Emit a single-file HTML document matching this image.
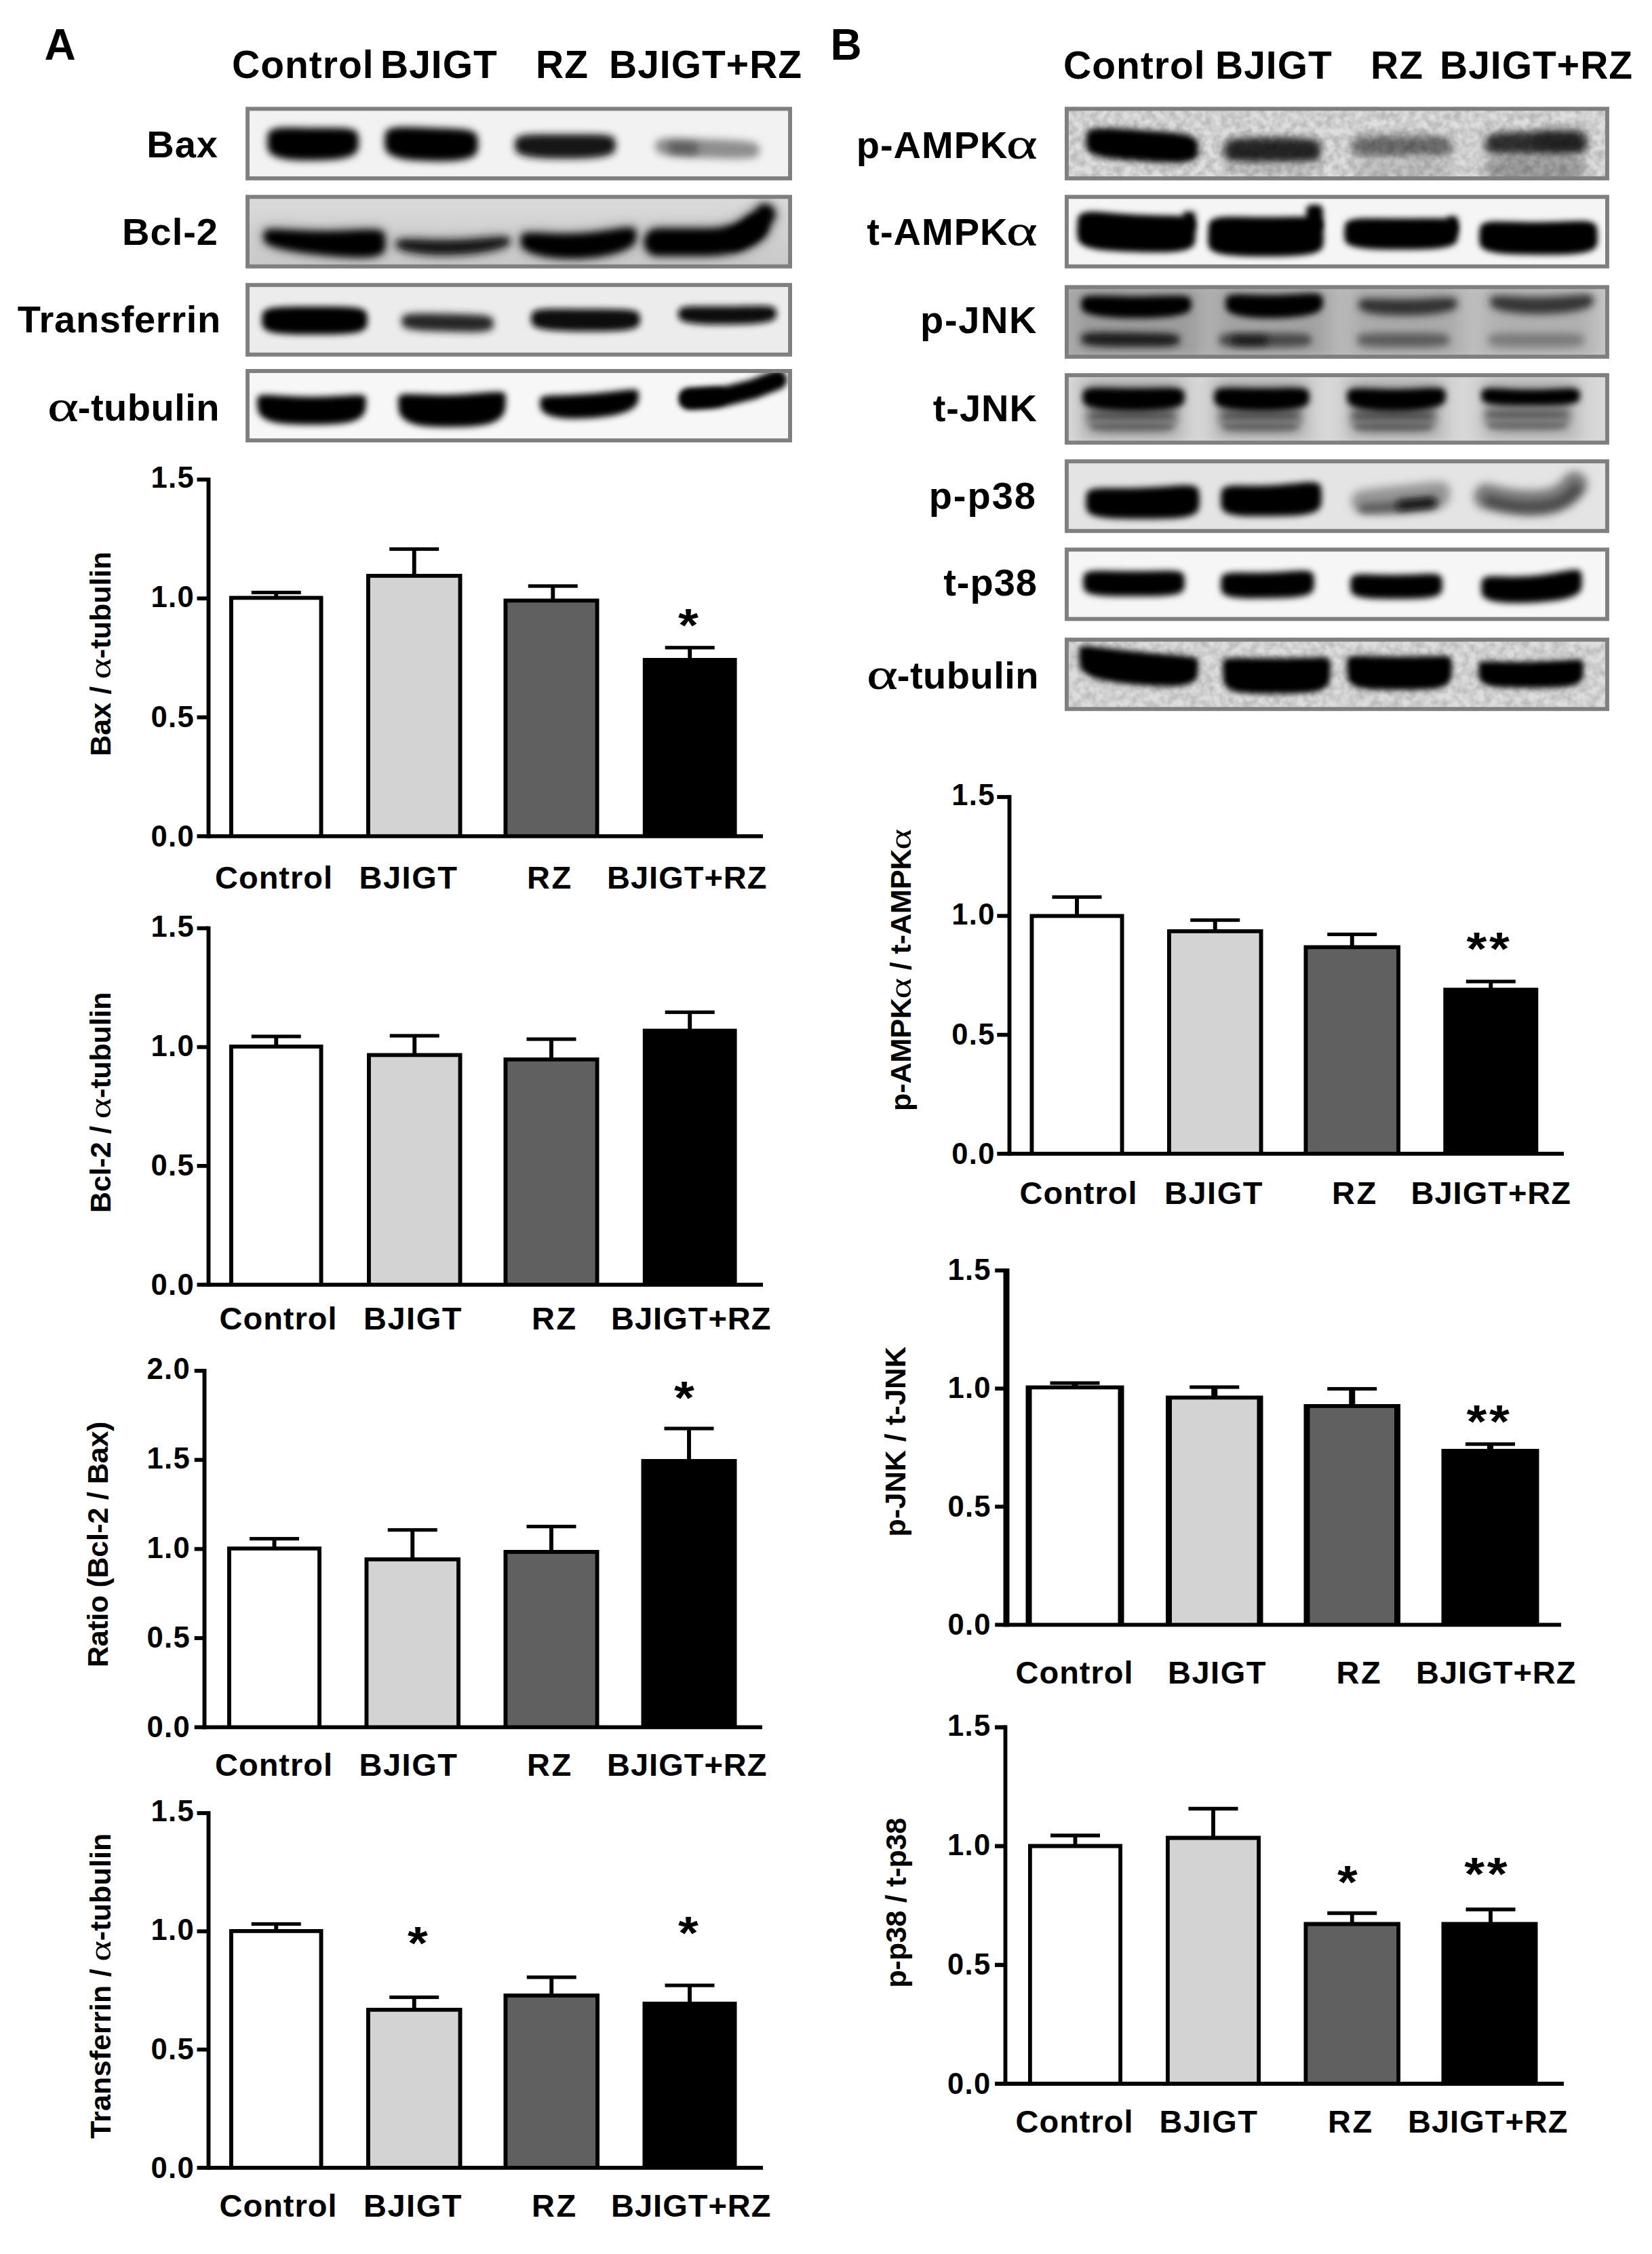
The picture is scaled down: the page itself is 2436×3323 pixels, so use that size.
<!DOCTYPE html>
<html lang="en"><head><meta charset="utf-8"><title>Figure</title>
<style>html,body{margin:0;padding:0;background:#fff}svg{display:block}</style></head><body>
<svg width="2436" height="3323" viewBox="0 0 2436 3323" font-family='"Liberation Sans", Arial, Helvetica, sans-serif' fill="#000">
<rect width="2436" height="3323" fill="#fff"/>
<defs>
<filter id="f0_5_5" filterUnits="userSpaceOnUse" x="332.1" y="127.5" width="865.9" height="168.4"><feGaussianBlur stdDeviation="5.5"/></filter>
<filter id="f0_6" filterUnits="userSpaceOnUse" x="332.1" y="127.5" width="865.9" height="168.4"><feGaussianBlur stdDeviation="6"/></filter>
<clipPath id="cp0"><rect x="362.1" y="157.5" width="805.9" height="108.4"/></clipPath>
<filter id="f1_5_5" filterUnits="userSpaceOnUse" x="332.1" y="257.3" width="865.9" height="168.4"><feGaussianBlur stdDeviation="5.5"/></filter>
<linearGradient id="g1" x1="0" y1="0" x2="0" y2="1"><stop offset="0" stop-color="#dbdbdb"/><stop offset="1" stop-color="#c8c8c8"/></linearGradient>
<filter id="fh1" filterUnits="userSpaceOnUse" x="332.1" y="257.3" width="865.9" height="168.4"><feGaussianBlur stdDeviation="8"/></filter>
<clipPath id="cp1"><rect x="362.1" y="287.3" width="805.9" height="108.4"/></clipPath>
<filter id="f2_5" filterUnits="userSpaceOnUse" x="332.1" y="387.2" width="865.9" height="168.5"><feGaussianBlur stdDeviation="5"/></filter>
<filter id="f2_5_5" filterUnits="userSpaceOnUse" x="332.1" y="387.2" width="865.9" height="168.5"><feGaussianBlur stdDeviation="5.5"/></filter>
<clipPath id="cp2"><rect x="362.1" y="417.2" width="805.9" height="108.5"/></clipPath>
<filter id="f3_4_5" filterUnits="userSpaceOnUse" x="332.1" y="514" width="865.9" height="168.2"><feGaussianBlur stdDeviation="4.5"/></filter>
<filter id="f3_5" filterUnits="userSpaceOnUse" x="332.1" y="514" width="865.9" height="168.2"><feGaussianBlur stdDeviation="5"/></filter>
<clipPath id="cp3"><rect x="362.1" y="544" width="805.9" height="108.2"/></clipPath>
<filter id="f4_5" filterUnits="userSpaceOnUse" x="1540" y="127.5" width="862.9" height="168.4"><feGaussianBlur stdDeviation="5"/></filter>
<filter id="f4_6" filterUnits="userSpaceOnUse" x="1540" y="127.5" width="862.9" height="168.4"><feGaussianBlur stdDeviation="6"/></filter>
<filter id="f4_6_5" filterUnits="userSpaceOnUse" x="1540" y="127.5" width="862.9" height="168.4"><feGaussianBlur stdDeviation="6.5"/></filter>
<filter id="f4_7" filterUnits="userSpaceOnUse" x="1540" y="127.5" width="862.9" height="168.4"><feGaussianBlur stdDeviation="7"/></filter>
<filter id="f4_8" filterUnits="userSpaceOnUse" x="1540" y="127.5" width="862.9" height="168.4"><feGaussianBlur stdDeviation="8"/></filter>
<clipPath id="cp4"><rect x="1570" y="157.5" width="802.9" height="108.4"/></clipPath>
<filter id="f5_4_5" filterUnits="userSpaceOnUse" x="1540" y="257.3" width="862.9" height="168.4"><feGaussianBlur stdDeviation="4.5"/></filter>
<filter id="f5_5" filterUnits="userSpaceOnUse" x="1540" y="257.3" width="862.9" height="168.4"><feGaussianBlur stdDeviation="5"/></filter>
<clipPath id="cp5"><rect x="1570" y="287.3" width="802.9" height="108.4"/></clipPath>
<filter id="f6_5" filterUnits="userSpaceOnUse" x="1540" y="390.4" width="862.9" height="168.4"><feGaussianBlur stdDeviation="5"/></filter>
<filter id="f6_5_5" filterUnits="userSpaceOnUse" x="1540" y="390.4" width="862.9" height="168.4"><feGaussianBlur stdDeviation="5.5"/></filter>
<filter id="f6_6" filterUnits="userSpaceOnUse" x="1540" y="390.4" width="862.9" height="168.4"><feGaussianBlur stdDeviation="6"/></filter>
<linearGradient id="g6" x1="0" y1="0" x2="1" y2="0"><stop offset="0" stop-color="#aeaeae"/><stop offset="1" stop-color="#c6c6c6"/></linearGradient>
<filter id="fs6" filterUnits="userSpaceOnUse" x="1540" y="390.4" width="862.9" height="168.4"><feGaussianBlur stdDeviation="14 6"/></filter>
<clipPath id="cp6"><rect x="1570" y="420.4" width="802.9" height="108.4"/></clipPath>
<filter id="f7_5" filterUnits="userSpaceOnUse" x="1540" y="520.2" width="862.9" height="165.3"><feGaussianBlur stdDeviation="5"/></filter>
<filter id="f7_6" filterUnits="userSpaceOnUse" x="1540" y="520.2" width="862.9" height="165.3"><feGaussianBlur stdDeviation="6"/></filter>
<filter id="fs7" filterUnits="userSpaceOnUse" x="1540" y="520.2" width="862.9" height="165.3"><feGaussianBlur stdDeviation="14 6"/></filter>
<clipPath id="cp7"><rect x="1570" y="550.2" width="802.9" height="105.3"/></clipPath>
<filter id="f8_5" filterUnits="userSpaceOnUse" x="1540" y="647.2" width="862.9" height="168.5"><feGaussianBlur stdDeviation="5"/></filter>
<filter id="f8_6" filterUnits="userSpaceOnUse" x="1540" y="647.2" width="862.9" height="168.5"><feGaussianBlur stdDeviation="6"/></filter>
<filter id="f8_6_5" filterUnits="userSpaceOnUse" x="1540" y="647.2" width="862.9" height="168.5"><feGaussianBlur stdDeviation="6.5"/></filter>
<clipPath id="cp8"><rect x="1570" y="677.2" width="802.9" height="108.5"/></clipPath>
<filter id="f9_5" filterUnits="userSpaceOnUse" x="1540" y="777.3" width="862.9" height="168.2"><feGaussianBlur stdDeviation="5"/></filter>
<clipPath id="cp9"><rect x="1570" y="807.3" width="802.9" height="108.2"/></clipPath>
<filter id="f10_4" filterUnits="userSpaceOnUse" x="1540" y="910.1" width="862.9" height="168.1"><feGaussianBlur stdDeviation="4"/></filter>
<clipPath id="cp10"><rect x="1570" y="940.1" width="802.9" height="108.1"/></clipPath>
<filter id="nz" x="0" y="0" width="100%" height="100%"><feTurbulence type="fractalNoise" baseFrequency="0.09" numOctaves="2" seed="7"/><feColorMatrix type="matrix" values="0 0 0 0 0  0 0 0 0 0  0 0 0 0 0  2.2 0 0 0 -0.7"/></filter>
</defs>
<g clip-path="url(#cp0)">
<rect x="362.1" y="157.5" width="805.9" height="108.4" fill="#f2f2f2"/>
<path d="M394 210L395 196.9L398.1 192.7L403 190.2L409.8 188.8L418.1 188.1L427.8 188L438.4 188.1L449.8 188.4L461.5 188.5L473.2 188.5L484.6 188.5L495.2 188.5L504.9 188.8L513.2 189.5L520 191L524.9 193.4L528 197.5L529 210L529 210L528 220.3L524.9 225.1L520 228.7L513.2 231.4L504.9 233.5L495.2 234.9L484.6 235.8L473.2 236.3L461.5 236.5L449.8 236.5L438.4 236.2L427.8 235.4L418.1 234.1L409.8 232.1L403 229.3L398.1 225.7L395 220.7L394 210Z" fill="#030303" filter="url(#f0_5_5)"/>
<path d="M567 209L568 195.9L571.2 191.7L576.2 189.3L583.1 187.9L591.6 187.3L601.5 187.2L612.4 187.6L624 188L636 188.5L648 188.9L659.6 189.3L670.5 189.7L680.4 190.5L688.9 191.6L695.8 193.5L700.8 196.2L704 200.4L705 213L705 213L704 223.3L700.8 227.9L695.8 231.4L688.9 233.9L680.4 235.8L670.5 236.9L659.6 237.5L648 237.7L636 237.5L624 237.1L612.4 236.5L601.5 235.4L591.6 233.8L583.1 231.5L576.2 228.6L571.2 224.8L568 219.7L567 209Z" fill="#020202" filter="url(#f0_5_5)"/>
<path d="M759 214.5L760.1 205L763.5 201.8L769 199.9L776.4 198.8L785.6 198.2L796.2 197.9L808 197.9L820.6 198L833.5 198L846.4 198L859 197.9L870.8 197.9L881.4 198.2L890.6 198.8L898 199.9L903.5 201.8L906.9 205L908 214.5L908 214.5L906.9 222.3L903.5 225.9L898 228.6L890.6 230.6L881.4 232.1L870.8 233.1L859 233.7L846.4 233.9L833.5 234L820.6 233.9L808 233.7L796.2 233.1L785.6 232.1L776.4 230.6L769 228.6L763.5 225.9L760.1 222.3L759 214.5Z" fill="#161616" filter="url(#f0_5_5)"/>
<path d="M966 216L967.2 208.4L970.6 205.9L976.3 204.5L984 203.8L993.5 203.5L1004.5 203.6L1016.7 204L1029.6 204.5L1043 205L1056.4 205.5L1069.3 206.1L1081.5 206.6L1092.5 207.4L1102 208.4L1109.7 209.7L1115.4 211.6L1118.8 214.3L1120 222L1120 222L1118.8 228.2L1115.4 230.8L1109.7 232.5L1102 233.5L1092.5 234.1L1081.5 234.2L1069.3 233.9L1056.4 233.5L1043 233L1029.6 232.5L1016.7 231.9L1004.5 231.2L993.5 230.2L984 228.9L976.3 227.3L970.6 225.1L967.2 222.3L966 216Z" fill="#8e8e8e" filter="url(#f0_6)"/>
<path d="M985 217.5L985.3 212.9L986.4 211.3L988 210.4L990.3 209.9L993 209.6L996.2 209.6L999.8 209.7L1003.6 209.8L1007.5 210L1011.4 210.2L1015.2 210.4L1018.8 210.6L1022 210.9L1024.7 211.4L1027 212.2L1028.6 213.2L1029.7 214.8L1030 219.5L1030 219.5L1029.7 223.3L1028.6 224.9L1027 226L1024.7 226.7L1022 227.1L1018.8 227.3L1015.2 227.3L1011.4 227.2L1007.5 227L1003.6 226.8L999.8 226.6L996.2 226.3L993 225.8L990.3 225.2L988 224.2L986.4 223L985.3 221.3L985 217.5Z" fill="#5a5a5a" filter="url(#f0_6)"/>
</g>
<rect x="365.05" y="160.45" width="800" height="102.5" fill="none" stroke="#7f7f7f" stroke-width="5.9"/>
<g clip-path="url(#cp1)">
<rect x="362.1" y="287.3" width="805.9" height="108.4" fill="url(#g1)"/>
<path d="M389 349L390.4 340.9L394.4 339L401 338.3L409.9 338.3L421 338.9L433.8 339.6L447.9 340.3L463 340.8L478.5 341L494 340.8L509.1 340.3L523.2 339.6L536 339L547.1 338.8L556 339.3L562.6 340.9L566.6 344.5L568 358L568 358L566.6 369.4L562.6 373.8L556 376.7L547.1 378.4L536 379.2L523.2 379.2L509.1 378.5L494 377.4L478.5 376L463 374.3L447.9 372.4L433.8 370.3L421 367.9L409.9 365.3L401 362.5L394.4 359.6L390.4 356.1L389 349Z" fill="#a4a4a4" stroke="#a4a4a4" stroke-width="12" stroke-linejoin="round" filter="url(#fh1)"/>
<path d="M584 359.5L585.3 355.6L589.1 353.9L595.3 353.1L603.7 352.9L614 353.1L626 353.5L639.3 353.9L653.4 354.1L668 354L682.6 353.4L696.7 352.5L710 351.5L722 350.5L732.3 349.7L740.7 349.5L746.9 349.9L750.7 351.4L752 355L752 355L750.7 359.2L746.9 362.1L740.7 364.9L732.3 367.5L722 369.9L710 372L696.7 373.7L682.6 374.8L668 375.5L653.4 375.7L639.3 375.4L626 374.5L614 373.1L603.7 371.3L595.3 369.1L589.1 366.6L585.3 363.8L584 359.5Z" fill="#a4a4a4" stroke="#a4a4a4" stroke-width="12" stroke-linejoin="round" filter="url(#fh1)"/>
<path d="M768 355.5L769.3 346.7L773.1 344.4L779.4 343.5L787.9 343.4L798.4 343.8L810.5 344.4L823.9 344.9L838.2 345L853 344.5L867.8 343.4L882.1 341.8L895.5 339.9L907.6 338.1L918.1 336.6L926.6 335.9L932.9 336.3L936.7 338.5L938 348L938 348L936.7 356.4L932.9 361.1L926.6 365.4L918.1 369.4L907.6 373L895.5 376.1L882.1 378.5L867.8 380.1L853 381L838.2 381.1L823.9 380.5L810.5 379.1L798.4 376.9L787.9 374.1L779.4 370.8L773.1 367.2L769.3 363.1L768 355.5Z" fill="#a4a4a4" stroke="#a4a4a4" stroke-width="12" stroke-linejoin="round" filter="url(#fh1)"/>
<path d="M970 357L1040 357Q1088 357 1112 336" fill="none" stroke="#a4a4a4" stroke-width="52" stroke-linecap="round" stroke-linejoin="round" filter="url(#fh1)"/>
<path d="M1085 352Q1114 340 1128 316" fill="none" stroke="#a4a4a4" stroke-width="42" stroke-linecap="round" stroke-linejoin="round" filter="url(#fh1)"/>
<path d="M389 349L390.4 340.9L394.4 339L401 338.3L409.9 338.3L421 338.9L433.8 339.6L447.9 340.3L463 340.8L478.5 341L494 340.8L509.1 340.3L523.2 339.6L536 339L547.1 338.8L556 339.3L562.6 340.9L566.6 344.5L568 358L568 358L566.6 369.4L562.6 373.8L556 376.7L547.1 378.4L536 379.2L523.2 379.2L509.1 378.5L494 377.4L478.5 376L463 374.3L447.9 372.4L433.8 370.3L421 367.9L409.9 365.3L401 362.5L394.4 359.6L390.4 356.1L389 349Z" fill="#000" filter="url(#f1_5_5)"/>
<path d="M584 359.5L585.3 355.6L589.1 353.9L595.3 353.1L603.7 352.9L614 353.1L626 353.5L639.3 353.9L653.4 354.1L668 354L682.6 353.4L696.7 352.5L710 351.5L722 350.5L732.3 349.7L740.7 349.5L746.9 349.9L750.7 351.4L752 355L752 355L750.7 359.2L746.9 362.1L740.7 364.9L732.3 367.5L722 369.9L710 372L696.7 373.7L682.6 374.8L668 375.5L653.4 375.7L639.3 375.4L626 374.5L614 373.1L603.7 371.3L595.3 369.1L589.1 366.6L585.3 363.8L584 359.5Z" fill="#141414" filter="url(#f1_5_5)"/>
<path d="M768 355.5L769.3 346.7L773.1 344.4L779.4 343.5L787.9 343.4L798.4 343.8L810.5 344.4L823.9 344.9L838.2 345L853 344.5L867.8 343.4L882.1 341.8L895.5 339.9L907.6 338.1L918.1 336.6L926.6 335.9L932.9 336.3L936.7 338.5L938 348L938 348L936.7 356.4L932.9 361.1L926.6 365.4L918.1 369.4L907.6 373L895.5 376.1L882.1 378.5L867.8 380.1L853 381L838.2 381.1L823.9 380.5L810.5 379.1L798.4 376.9L787.9 374.1L779.4 370.8L773.1 367.2L769.3 363.1L768 355.5Z" fill="#000" filter="url(#f1_5_5)"/>
<path d="M970 357L1040 357Q1088 357 1112 336" fill="none" stroke="#000" stroke-width="40" stroke-linecap="round" stroke-linejoin="round" filter="url(#f1_5_5)"/>
<path d="M1085 352Q1114 340 1128 316" fill="none" stroke="#000" stroke-width="30" stroke-linecap="round" stroke-linejoin="round" filter="url(#f1_5_5)"/>
</g>
<rect x="365.05" y="290.25" width="800" height="102.5" fill="none" stroke="#7f7f7f" stroke-width="5.9"/>
<g clip-path="url(#cp2)">
<rect x="362.1" y="417.2" width="805.9" height="108.5" fill="#ececec"/>
<path d="M386 472.5L387.2 461.3L390.7 457.5L396.5 455.1L404.2 453.6L413.9 452.7L425 452.2L437.3 452L450.5 452L464 452L477.5 452L490.7 452L503 452.2L514.1 452.7L523.8 453.6L531.5 455.1L537.3 457.5L540.8 461.3L542 472.5L542 472.5L540.8 481.6L537.3 485.6L531.5 488.4L523.8 490.4L514.1 491.7L503 492.5L490.7 492.9L477.5 493L464 493L450.5 493L437.3 492.9L425 492.5L413.9 491.7L404.2 490.4L396.5 488.4L390.7 485.6L387.2 481.6L386 472.5Z" fill="#060606" filter="url(#f2_5)"/>
<path d="M592 474L593 466.9L596.1 464.6L601.1 463.2L607.9 462.4L616.3 462L626 461.9L636.7 462L648.2 462.2L660 462.5L671.8 462.8L683.3 463L694 463.4L703.7 463.9L712.1 464.7L718.9 465.8L723.9 467.5L727 470.1L728 477.5L728 477.5L727 483.5L723.9 486L718.9 487.7L712.1 488.8L703.7 489.5L694 489.7L683.3 489.6L671.8 489.3L660 489L648.2 488.6L636.7 488.2L626 487.7L616.3 486.9L607.9 485.8L601.1 484.4L596.1 482.4L593 479.8L592 474Z" fill="#262626" filter="url(#f2_5_5)"/>
<path d="M783 470.5L784.2 461.5L787.9 458.6L793.8 456.8L801.8 455.8L811.8 455.3L823.2 455.2L836 455.2L849.5 455.4L863.5 455.5L877.5 455.6L891 455.6L903.8 455.7L915.2 455.9L925.2 456.6L933.2 457.7L939.1 459.5L942.8 462.5L944 471.5L944 471.5L942.8 478.8L939.1 482.1L933.2 484.5L925.2 486.2L915.2 487.4L903.8 488.1L891 488.5L877.5 488.5L863.5 488.5L849.5 488.4L836 488.1L823.2 487.6L811.8 486.8L801.8 485.5L793.8 483.6L787.9 481.2L784.2 477.9L783 470.5Z" fill="#0a0a0a" filter="url(#f2_5)"/>
<path d="M1000 463.5L1001.1 456.2L1004.4 453.8L1009.7 452.5L1017 451.7L1025.9 451.4L1036.2 451.4L1047.7 451.5L1059.9 451.5L1072.5 451.5L1085.1 451.4L1097.3 451.1L1108.8 450.9L1119.1 450.8L1128 451L1135.3 451.6L1140.6 452.9L1143.9 455.2L1145 462.5L1145 462.5L1143.9 468.6L1140.6 471.4L1135.3 473.6L1128 475.2L1119.1 476.5L1108.8 477.4L1097.3 478L1085.1 478.3L1072.5 478.5L1059.9 478.5L1047.7 478.4L1036.2 477.9L1025.9 477.2L1017 476L1009.7 474.4L1004.4 472.3L1001.1 469.5L1000 463.5Z" fill="#0e0e0e" filter="url(#f2_5)"/>
</g>
<rect x="365.05" y="420.15" width="800" height="102.6" fill="none" stroke="#7f7f7f" stroke-width="5.9"/>
<g clip-path="url(#cp3)">
<rect x="362.1" y="544" width="805.9" height="108.2" fill="#f7f7f7"/>
<path d="M379 590.2L380.2 584.3L383.9 582.7L389.8 582.2L397.8 582.3L407.8 582.9L419.2 583.6L432 584.3L445.5 584.8L459.5 585L473.5 584.8L487 584.3L499.8 583.6L511.2 582.9L521.2 582.3L529.2 582.2L535.1 582.7L538.8 584.3L540 590.2L540 590.2L538.8 605.3L535.1 612.2L529.2 617.2L521.2 620.7L511.2 623.2L499.8 624.8L487 625.6L473.5 625.9L459.5 626L445.5 625.9L432 625.6L419.2 624.8L407.8 623.2L397.8 620.7L389.8 617.2L383.9 612.2L380.2 605.3L379 590.2Z" fill="#000" filter="url(#f3_5)"/>
<path d="M587 590.2L588.2 583.7L591.8 581.9L597.7 581.1L605.6 580.9L615.4 581.2L626.8 581.6L639.3 582L652.7 582.2L666.5 582L680.3 581.5L693.7 580.6L706.2 579.6L717.6 578.6L727.4 577.9L735.3 577.7L741.2 578.3L744.8 580.1L746 587L746 587L744.8 604.4L741.2 612.5L735.3 618.3L727.4 622.6L717.6 625.7L706.2 627.6L693.7 628.8L680.3 629.3L666.5 629.5L652.7 629.5L639.3 629.1L626.8 628.2L615.4 626.4L605.6 623.6L597.7 619.6L591.8 614.2L588.2 606.7L587 590.2Z" fill="#000" filter="url(#f3_5)"/>
<path d="M796 591.9L797.1 586.5L800.4 584.8L805.8 583.8L813.1 583.1L822.1 582.7L832.5 582.4L844 581.9L856.3 581.3L869 580.5L881.7 579.4L894 578.2L905.5 576.9L915.9 575.7L924.9 574.8L932.2 574.3L937.6 574.6L940.9 576L942 581.5L942 581.5L940.9 592.6L937.6 598.1L932.2 602.6L924.9 606.4L915.9 609.6L905.5 612.2L894 614.1L881.7 615.5L869 616.5L856.3 617.1L844 617.2L832.5 616.7L822.1 615.4L813.1 613.4L805.8 610.7L800.4 607L797.1 602.2L796 591.9Z" fill="#000" filter="url(#f3_5)"/>
<path d="M1016 588L1070 584L1110 574L1146 560" fill="none" stroke="#000" stroke-width="29" stroke-linecap="round" stroke-linejoin="round" filter="url(#f3_4_5)"/>
<path d="M1004 585.6L1004.5 579.2L1006 577.1L1008.4 575.6L1011.7 574.7L1015.8 574L1020.5 573.6L1025.7 573.4L1031.3 573.2L1037 573L1042.7 572.8L1048.3 572.7L1053.5 572.6L1058.2 572.7L1062.3 573.1L1065.6 573.8L1068 575.1L1069.5 577.1L1070 583.2L1070 583.2L1069.5 590.7L1068 594L1065.6 596.5L1062.3 598.2L1058.2 599.5L1053.5 600.3L1048.3 600.9L1042.7 601.2L1037 601.5L1031.3 601.8L1025.7 601.9L1020.5 601.8L1015.8 601.4L1011.7 600.5L1008.4 598.9L1006 596.7L1004.5 593.3L1004 585.6Z" fill="#000" filter="url(#f3_5)"/>
</g>
<rect x="365.05" y="546.95" width="800" height="102.3" fill="none" stroke="#7f7f7f" stroke-width="5.9"/>
<g clip-path="url(#cp4)">
<rect x="1570" y="157.5" width="802.9" height="108.4" fill="#dedede"/>
<path d="M1601 209L1602.3 196.5L1606 192.5L1612.1 190.3L1620.4 189.2L1630.6 188.9L1642.5 189.2L1655.6 190L1669.6 191L1684 192L1698.4 193L1712.4 194.1L1725.5 195.2L1737.4 196.6L1747.6 198.3L1755.9 200.6L1762 203.7L1765.7 208.1L1767 220.5L1767 220.5L1765.7 230.4L1762 234.6L1755.9 237.3L1747.6 238.9L1737.4 239.7L1725.5 239.7L1712.4 239.2L1698.4 238.4L1684 237.5L1669.6 236.5L1655.6 235.5L1642.5 234.2L1630.6 232.6L1620.4 230.4L1612.1 227.6L1606 224.1L1602.3 219.3L1601 209Z" fill="#000" filter="url(#f4_5)"/>
<path d="M1805 222.5L1806.1 211.8L1809.3 208.2L1814.6 206L1821.7 204.5L1830.5 203.6L1840.8 203.2L1852 203L1864.1 203L1876.5 203L1888.9 203L1901 203L1912.2 203.2L1922.5 203.6L1931.3 204.5L1938.4 206L1943.7 208.2L1946.9 211.8L1948 222.5L1948 222.5L1946.9 231.2L1943.7 235L1938.4 237.7L1931.3 239.6L1922.5 240.8L1912.2 241.5L1901 241.9L1888.9 242L1876.5 242L1864.1 242L1852 241.9L1840.8 241.5L1830.5 240.8L1821.7 239.6L1814.6 237.7L1809.3 235L1806.1 231.2L1805 222.5Z" fill="#262626" filter="url(#f4_6)"/>
<path d="M1805 249L1806.1 244.1L1809.3 242.4L1814.6 241.4L1821.7 240.7L1830.5 240.3L1840.8 240.1L1852 240L1864.1 240L1876.5 240L1888.9 240L1901 240L1912.2 240.1L1922.5 240.3L1931.3 240.7L1938.4 241.4L1943.7 242.4L1946.9 244.1L1948 249L1948 249L1946.9 253L1943.7 254.8L1938.4 256L1931.3 256.9L1922.5 257.4L1912.2 257.8L1901 257.9L1888.9 258L1876.5 258L1864.1 258L1852 257.9L1840.8 257.8L1830.5 257.4L1821.7 256.9L1814.6 256L1809.3 254.8L1806.1 253L1805 249Z" fill="#bdbdbd" filter="url(#f4_6)"/>
<path d="M1993 216.5L1994.1 207.5L1997.5 204.4L2003 202.5L2010.4 201.3L2019.6 200.5L2030.2 200.2L2042 200L2054.6 200L2067.5 200L2080.4 200L2093 200L2104.8 200.2L2115.4 200.5L2124.6 201.3L2132 202.5L2137.5 204.4L2140.9 207.5L2142 216.5L2142 216.5L2140.9 223.8L2137.5 227.1L2132 229.3L2124.6 230.9L2115.4 232L2104.8 232.6L2093 232.9L2080.4 233L2067.5 233L2054.6 233L2042 232.9L2030.2 232.6L2019.6 232L2010.4 230.9L2003 229.3L1997.5 227.1L1994.1 223.8L1993 216.5Z" fill="#6c6c6c" filter="url(#f4_6_5)"/>
<path d="M1995 249L1996.1 239.7L1999.4 236.6L2004.8 234.6L2012.2 233.3L2021.3 232.5L2031.8 232.2L2043.4 232L2055.7 232L2068.5 232L2081.3 232L2093.6 232L2105.2 232.2L2115.7 232.5L2124.8 233.3L2132.2 234.6L2137.6 236.6L2140.9 239.7L2142 249L2142 249L2140.9 256.5L2137.6 259.9L2132.2 262.2L2124.8 263.9L2115.7 265L2105.2 265.6L2093.6 265.9L2081.3 266L2068.5 266L2055.7 266L2043.4 265.9L2031.8 265.6L2021.3 265L2012.2 263.9L2004.8 262.2L1999.4 259.9L1996.1 256.5L1995 249Z" fill="#c2c2c2" filter="url(#f4_7)"/>
<path d="M2190 213L2191.1 203.1L2194.5 199.8L2199.9 197.6L2207.3 196.1L2216.4 195.2L2227 194.7L2238.7 194.4L2251.2 194.2L2264 194L2276.8 193.8L2289.3 193.7L2301 193.7L2311.6 193.9L2320.7 194.6L2328.1 195.9L2333.5 197.9L2336.9 201.2L2338 211L2338 211L2336.9 219L2333.5 222.6L2328.1 225.1L2320.7 227L2311.6 228.3L2301 229.1L2289.3 229.6L2276.8 229.8L2264 230L2251.2 230.2L2238.7 230.2L2227 230.1L2216.4 229.5L2207.3 228.5L2199.9 226.9L2194.5 224.5L2191.1 221L2190 213Z" fill="#303030" filter="url(#f4_6)"/>
<path d="M2262 211L2262.6 202.8L2264.3 200L2267.1 198.2L2270.9 196.9L2275.6 196.1L2281 195.7L2287 195.4L2293.4 195.2L2300 195L2306.6 194.8L2313 194.7L2319 194.7L2324.4 194.9L2329.1 195.5L2332.9 196.6L2335.7 198.4L2337.4 201.2L2338 210L2338 210L2337.4 217.1L2335.7 220.3L2332.9 222.5L2329.1 224L2324.4 225L2319 225.6L2313 225.9L2306.6 226L2300 226L2293.4 226L2287 225.9L2281 225.6L2275.6 225.1L2270.9 224.1L2267.1 222.6L2264.3 220.6L2262.6 217.7L2262 211Z" fill="#1c1c1c" filter="url(#f4_8)" opacity="0.7"/>
<path d="M2190 249L2191.1 237.5L2194.5 233.6L2199.9 231.2L2207.3 229.6L2216.4 228.7L2227 228.2L2238.7 228L2251.2 228L2264 228L2276.8 228L2289.3 228L2301 228.2L2311.6 228.7L2320.7 229.6L2328.1 231.2L2333.5 233.6L2336.9 237.5L2338 249L2338 249L2336.9 258.3L2333.5 262.4L2328.1 265.3L2320.7 267.4L2311.6 268.7L2301 269.5L2289.3 269.9L2276.8 270L2264 270L2251.2 270L2238.7 269.9L2227 269.5L2216.4 268.7L2207.3 267.4L2199.9 265.3L2194.5 262.4L2191.1 258.3L2190 249Z" fill="#a0a0a0" filter="url(#f4_7)"/>
<rect x="1570" y="157.5" width="802.9" height="108.4" filter="url(#nz)" opacity="0.16" fill="#fff"/>
</g>
<rect x="1572.95" y="160.45" width="797" height="102.5" fill="none" stroke="#7f7f7f" stroke-width="5.9"/>
<g clip-path="url(#cp5)">
<rect x="1570" y="287.3" width="802.9" height="108.4" fill="#f5f5f5"/>
<path d="M1588 340L1589.3 320.6L1593.3 315.4L1599.7 312.9L1608.5 312L1619.3 312.3L1631.8 313.2L1645.6 314.4L1660.3 315.6L1675.5 316.5L1690.7 317.1L1705.4 317.5L1719.2 317.7L1731.7 318L1742.5 318.8L1751.3 320.5L1757.7 323.4L1761.7 328.6L1763 346.8L1763 346.8L1761.7 359.3L1757.7 364.2L1751.3 367.5L1742.5 369.8L1731.7 371.2L1719.2 371.9L1705.4 372L1690.7 371.9L1675.5 371.5L1660.3 371L1645.6 370.3L1631.8 369.3L1619.3 367.9L1608.5 365.8L1599.7 362.9L1593.3 358.9L1589.3 353.5L1588 340Z" fill="#000" filter="url(#f5_4_5)"/>
<path d="M1744 326L1744.1 318.3L1744.6 315.8L1745.3 314.1L1746.2 313.1L1747.4 312.5L1748.8 312.1L1750.3 312L1751.9 312L1753.5 312L1755.1 312L1756.7 312L1758.2 312.1L1759.6 312.5L1760.8 313.1L1761.7 314.1L1762.4 315.8L1762.9 318.3L1763 326L1763 326L1762.9 332.2L1762.4 335L1761.7 336.9L1760.8 338.2L1759.6 339.1L1758.2 339.7L1756.7 339.9L1755.1 340L1753.5 340L1751.9 340L1750.3 339.9L1748.8 339.7L1747.4 339.1L1746.2 338.2L1745.3 336.9L1744.6 335L1744.1 332.2L1744 326Z" fill="#000" filter="url(#f5_5)"/>
<path d="M1781 352.8L1782.3 329.7L1786.2 324.4L1792.5 321.5L1801 320.1L1811.5 319.6L1823.8 319.6L1837.3 319.8L1851.7 319.9L1866.5 320L1881.3 319.9L1895.7 319.8L1909.2 319.6L1921.5 319.6L1932 320.1L1940.5 321.5L1946.8 324.4L1950.7 329.7L1952 352.8L1952 352.8L1950.7 364.3L1946.8 368.9L1940.5 372.2L1932 374.5L1921.5 376.1L1909.2 377.1L1895.7 377.7L1881.3 377.9L1866.5 378L1851.7 377.9L1837.3 377.7L1823.8 377.1L1811.5 376.1L1801 374.5L1792.5 372.2L1786.2 368.9L1782.3 364.3L1781 352.8Z" fill="#000" filter="url(#f5_4_5)"/>
<path d="M1926 321L1926.2 310.6L1926.8 307.1L1927.7 304.9L1928.9 303.5L1930.5 302.6L1932.2 302.2L1934.2 302L1936.3 302L1938.5 302L1940.7 302L1942.8 302L1944.8 302.2L1946.5 302.6L1948.1 303.5L1949.3 304.9L1950.2 307.1L1950.8 310.6L1951 321L1951 321L1950.8 329.4L1950.2 333.2L1949.3 335.8L1948.1 337.6L1946.5 338.8L1944.8 339.6L1942.8 339.9L1940.7 340L1938.5 340L1936.3 340L1934.2 339.9L1932.2 339.6L1930.5 338.8L1928.9 337.6L1927.7 335.8L1926.8 333.2L1926.2 329.4L1926 321Z" fill="#000" filter="url(#f5_4_5)"/>
<path d="M1982 345.3L1983.3 330.3L1987.1 326.1L1993.3 323.7L2001.7 322.3L2012 321.8L2024 321.7L2037.3 321.8L2051.4 321.9L2066 322L2080.6 321.9L2094.7 321.8L2108 321.7L2120 321.8L2130.3 322.3L2138.7 323.7L2144.9 326.1L2148.7 330.3L2150 345.3L2150 345.3L2148.7 355.6L2144.9 359.7L2138.7 362.6L2130.3 364.8L2120 366.2L2108 367.2L2094.7 367.7L2080.6 367.9L2066 368L2051.4 367.9L2037.3 367.7L2024 367.2L2012 366.2L2001.7 364.8L1993.3 362.6L1987.1 359.7L1983.3 355.6L1982 345.3Z" fill="#000" filter="url(#f5_4_5)"/>
<path d="M2133 332L2133.1 324.9L2133.5 322.5L2134.1 321L2135 320L2136 319.4L2137.2 319.1L2138.6 319L2140 319L2141.5 319L2143 319L2144.4 319L2145.8 319.1L2147 319.4L2148 320L2148.9 321L2149.5 322.5L2149.9 324.9L2150 332L2150 332L2149.9 337.8L2149.5 340.3L2148.9 342.1L2148 343.4L2147 344.2L2145.8 344.7L2144.4 344.9L2143 345L2141.5 345L2140 345L2138.6 344.9L2137.2 344.7L2136 344.2L2135 343.4L2134.1 342.1L2133.5 340.3L2133.1 337.8L2133 332Z" fill="#000" filter="url(#f5_5)"/>
<path d="M2181 350.5L2182.3 334.3L2186.3 329.9L2192.7 327.6L2201.5 326.5L2212.3 326.4L2224.8 326.7L2238.6 327.1L2253.3 327.4L2268.5 327.5L2283.7 327.3L2298.4 326.8L2312.2 326.2L2324.7 325.7L2335.5 325.8L2344.3 326.8L2350.7 329.2L2354.7 333.8L2356 350.6L2356 350.6L2354.7 362.2L2350.7 366.9L2344.3 370.1L2335.5 372.4L2324.7 374L2312.2 374.9L2298.4 375.4L2283.7 375.5L2268.5 375.5L2253.3 375.3L2238.6 375L2224.8 374.4L2212.3 373.4L2201.5 371.7L2192.7 369.4L2186.3 366.2L2182.3 361.7L2181 350.5Z" fill="#000" filter="url(#f5_4_5)"/>
</g>
<rect x="1572.95" y="290.25" width="797" height="102.5" fill="none" stroke="#7f7f7f" stroke-width="5.9"/>
<g clip-path="url(#cp6)">
<rect x="1570" y="420.4" width="802.9" height="108.4" fill="url(#g6)"/>
<rect x="1585" y="426.4" width="185" height="96.4" fill="#9c9c9c" filter="url(#fs6)"/>
<rect x="1795" y="426.4" width="165" height="96.4" fill="#a2a2a2" filter="url(#fs6)"/>
<rect x="1995" y="426.4" width="160" height="96.4" fill="#aaaaaa" filter="url(#fs6)"/>
<rect x="2188" y="426.4" width="162" height="96.4" fill="#b0b0b0" filter="url(#fs6)"/>
<path d="M1594 449L1595.2 440.4L1598.9 437.8L1604.9 436.4L1613.1 435.9L1623.1 435.9L1634.8 436.2L1647.6 436.6L1661.3 436.9L1675.5 437L1689.7 436.9L1703.4 436.6L1716.2 436.2L1727.9 435.9L1737.9 435.9L1746.1 436.4L1752.1 437.8L1755.8 440.4L1757 449L1757 449L1755.8 456.2L1752.1 459.7L1746.1 462.4L1737.9 464.6L1727.9 466.4L1716.2 467.6L1703.4 468.4L1689.7 468.9L1675.5 469L1661.3 468.9L1647.6 468.4L1634.8 467.6L1623.1 466.4L1613.1 464.6L1604.9 462.4L1598.9 459.7L1595.2 456.2L1594 449Z" fill="#000" filter="url(#f6_5)"/>
<path d="M1807 448L1808.1 438.8L1811.3 436.1L1816.6 434.7L1823.8 434.1L1832.7 434.1L1843 434.4L1854.4 434.8L1866.5 435L1879 435L1891.5 434.7L1903.6 434.1L1915 433.4L1925.3 432.8L1934.2 432.6L1941.4 433L1946.7 434.2L1949.9 436.9L1951 446L1951 446L1949.9 453.7L1946.7 457.5L1941.4 460.6L1934.2 463.2L1925.3 465.2L1915 466.8L1903.6 468L1891.5 468.7L1879 469L1866.5 469L1854.4 468.7L1843 467.8L1832.7 466.5L1823.8 464.7L1816.6 462.3L1811.3 459.4L1808.1 455.7L1807 448Z" fill="#000" filter="url(#f6_5)"/>
<path d="M2003 449.5L2004.1 443.3L2007.4 441.5L2012.8 440.6L2020.1 440.3L2029.1 440.4L2039.5 440.6L2051 440.9L2063.3 441.1L2076 441L2088.7 440.7L2101 440.2L2112.5 439.6L2122.9 439.1L2131.9 438.8L2139.2 438.9L2144.6 439.6L2147.9 441.3L2149 447.5L2149 447.5L2147.9 452.8L2144.6 455.5L2139.2 457.8L2131.9 459.8L2122.9 461.6L2112.5 463L2101 464L2088.7 464.7L2076 465L2063.3 465L2051 464.7L2039.5 464L2029.1 462.9L2020.1 461.4L2012.8 459.5L2007.4 457.4L2004.1 454.7L2003 449.5Z" fill="#303030" filter="url(#f6_6)"/>
<path d="M2197 445L2198.2 438.6L2201.6 436.9L2207.2 436.2L2214.9 436.2L2224.3 436.6L2235.2 437.1L2247.3 437.7L2260.2 438L2273.5 438L2286.8 437.6L2299.7 437L2311.8 436.1L2322.7 435.3L2332.1 434.6L2339.8 434.5L2345.4 435L2348.8 436.6L2350 443L2350 443L2348.8 448.5L2345.4 451.5L2339.8 454.2L2332.1 456.6L2322.7 458.7L2311.8 460.5L2299.7 461.8L2286.8 462.6L2273.5 463L2260.2 463L2247.3 462.4L2235.2 461.5L2224.3 460L2214.9 458.1L2207.2 455.9L2201.6 453.4L2198.2 450.5L2197 445Z" fill="#363636" filter="url(#f6_6)"/>
<path d="M1594 500L1595.1 494L1598.4 492L1603.8 490.8L1611.1 490.1L1620.1 489.7L1630.5 489.6L1642 489.7L1654.3 489.8L1667 490L1679.7 490.2L1692 490.4L1703.5 490.6L1713.9 491L1722.9 491.6L1730.2 492.5L1735.6 493.8L1738.9 495.7L1740 501.5L1740 501.5L1738.9 506.1L1735.6 508.2L1730.2 509.6L1722.9 510.6L1713.9 511.2L1703.5 511.5L1692 511.6L1679.7 511.6L1667 511.5L1654.3 511.4L1642 511.3L1630.5 511L1620.1 510.5L1611.1 509.7L1603.8 508.6L1598.4 507.1L1595.1 504.9L1594 500Z" fill="#1e1e1e" filter="url(#f6_5_5)"/>
<path d="M1797 501.5L1798 495.7L1801.1 493.8L1806.2 492.6L1813 491.8L1821.5 491.3L1831.2 491.1L1842.1 491L1853.6 491L1865.5 491L1877.4 491L1888.9 491L1899.8 491.1L1909.5 491.3L1918 491.8L1924.8 492.6L1929.9 493.8L1933 495.7L1934 501.5L1934 501.5L1933 506.2L1929.9 508.2L1924.8 509.7L1918 510.7L1909.5 511.4L1899.8 511.8L1888.9 511.9L1877.4 512L1865.5 512L1853.6 512L1842.1 511.9L1831.2 511.8L1821.5 511.4L1813 510.7L1806.2 509.7L1801.1 508.2L1798 506.2L1797 501.5Z" fill="#484848" filter="url(#f6_5_5)"/>
<path d="M1815 502L1815.4 498.2L1816.7 496.9L1818.7 496.1L1821.4 495.5L1824.8 495.2L1828.8 495.1L1833.1 495L1837.7 495L1842.5 495L1847.3 495L1851.9 495L1856.2 495.1L1860.2 495.2L1863.6 495.5L1866.3 496.1L1868.3 496.9L1869.6 498.2L1870 502L1870 502L1869.6 505.1L1868.3 506.5L1866.3 507.4L1863.6 508.1L1860.2 508.6L1856.2 508.8L1851.9 509L1847.3 509L1842.5 509L1837.7 509L1833.1 509L1828.8 508.8L1824.8 508.6L1821.4 508.1L1818.7 507.4L1816.7 506.5L1815.4 505.1L1815 502Z" fill="#1c1c1c" filter="url(#f6_5_5)"/>
<path d="M2001 501.5L2002 495.7L2005.1 493.8L2010.1 492.6L2016.9 491.8L2025.3 491.3L2035 491.1L2045.7 491L2057.2 491L2069 491L2080.8 491L2092.3 491L2103 491.1L2112.7 491.3L2121.1 491.8L2127.9 492.6L2132.9 493.8L2136 495.7L2137 501.5L2137 501.5L2136 506.2L2132.9 508.2L2127.9 509.7L2121.1 510.7L2112.7 511.4L2103 511.8L2092.3 511.9L2080.8 512L2069 512L2057.2 512L2045.7 511.9L2035 511.8L2025.3 511.4L2016.9 510.7L2010.1 509.7L2005.1 508.2L2002 506.2L2001 501.5Z" fill="#5c5c5c" filter="url(#f6_6)"/>
<path d="M2194 501.5L2195.1 495.7L2198.3 493.8L2203.5 492.6L2210.6 491.8L2219.4 491.3L2229.5 491.1L2240.7 491L2252.7 491L2265 491L2277.3 491L2289.3 491L2300.5 491.1L2310.6 491.3L2319.4 491.8L2326.5 492.6L2331.7 493.8L2334.9 495.7L2336 501.5L2336 501.5L2334.9 506.2L2331.7 508.2L2326.5 509.7L2319.4 510.7L2310.6 511.4L2300.5 511.8L2289.3 511.9L2277.3 512L2265 512L2252.7 512L2240.7 511.9L2229.5 511.8L2219.4 511.4L2210.6 510.7L2203.5 509.7L2198.3 508.2L2195.1 506.2L2194 501.5Z" fill="#7c7c7c" filter="url(#f6_6)"/>
</g>
<rect x="1572.95" y="423.35" width="797" height="102.5" fill="none" stroke="#7f7f7f" stroke-width="5.9"/>
<g clip-path="url(#cp7)">
<rect x="1570" y="550.2" width="802.9" height="105.3" fill="#d8d8d8"/>
<rect x="1595" y="556.2" width="150" height="93.3" fill="#b4b4b4" filter="url(#fs7)"/>
<rect x="1790" y="556.2" width="140" height="93.3" fill="#b4b4b4" filter="url(#fs7)"/>
<rect x="1987" y="556.2" width="143" height="93.3" fill="#b4b4b4" filter="url(#fs7)"/>
<rect x="2185" y="556.2" width="143" height="93.3" fill="#b8b8b8" filter="url(#fs7)"/>
<path d="M1600 616.5L1601 605.3L1604.2 601.5L1609.2 599.1L1616.1 597.6L1624.6 596.7L1634.5 596.2L1645.4 596L1657 596L1669 596L1681 596L1692.6 596L1703.5 596.2L1713.4 596.7L1721.9 597.6L1728.8 599.1L1733.8 601.5L1737 605.3L1738 616.5L1738 616.5L1737 625.6L1733.8 629.6L1728.8 632.4L1721.9 634.4L1713.4 635.7L1703.5 636.5L1692.6 636.9L1681 637L1669 637L1657 637L1645.4 636.9L1634.5 636.5L1624.6 635.7L1616.1 634.4L1609.2 632.4L1604.2 629.6L1601 625.6L1600 616.5Z" fill="#8c8c8c" filter="url(#f7_6)"/>
<path d="M1795 616.5L1796 605.3L1798.8 601.5L1803.5 599.1L1809.9 597.6L1817.7 596.7L1826.8 596.2L1836.8 596L1847.5 596L1858.5 596L1869.5 596L1880.2 596L1890.2 596.2L1899.3 596.7L1907.1 597.6L1913.5 599.1L1918.2 601.5L1921 605.3L1922 616.5L1922 616.5L1921 625.6L1918.2 629.6L1913.5 632.4L1907.1 634.4L1899.3 635.7L1890.2 636.5L1880.2 636.9L1869.5 637L1858.5 637L1847.5 637L1836.8 636.9L1826.8 636.5L1817.7 635.7L1809.9 634.4L1803.5 632.4L1798.8 629.6L1796 625.6L1795 616.5Z" fill="#8c8c8c" filter="url(#f7_6)"/>
<path d="M1990 616.5L1991 605.3L1993.9 601.5L1998.7 599.1L2005.2 597.6L2013.2 596.7L2022.5 596.2L2032.8 596L2043.7 596L2055 596L2066.3 596L2077.2 596L2087.5 596.2L2096.8 596.7L2104.8 597.6L2111.3 599.1L2116.1 601.5L2119 605.3L2120 616.5L2120 616.5L2119 625.6L2116.1 629.6L2111.3 632.4L2104.8 634.4L2096.8 635.7L2087.5 636.5L2077.2 636.9L2066.3 637L2055 637L2043.7 637L2032.8 636.9L2022.5 636.5L2013.2 635.7L2005.2 634.4L1998.7 632.4L1993.9 629.6L1991 625.6L1990 616.5Z" fill="#888888" filter="url(#f7_6)"/>
<path d="M2187 614.5L2188 603.3L2191 599.5L2195.8 597.1L2202.3 595.6L2210.4 594.7L2219.8 594.2L2230.1 594L2241.1 594L2252.5 594L2263.9 594L2274.9 594L2285.2 594.2L2294.6 594.7L2302.7 595.6L2309.2 597.1L2314 599.5L2317 603.3L2318 614.5L2318 614.5L2317 623.6L2314 627.6L2309.2 630.4L2302.7 632.4L2294.6 633.7L2285.2 634.5L2274.9 634.9L2263.9 635L2252.5 635L2241.1 635L2230.1 634.9L2219.8 634.5L2210.4 633.7L2202.3 632.4L2195.8 630.4L2191 627.6L2188 623.6L2187 614.5Z" fill="#909090" filter="url(#f7_6)"/>
<path d="M1606 613.5L1607 610.5L1609.8 609.5L1614.4 608.8L1620.7 608.4L1628.5 608.2L1637.5 608.1L1647.5 608L1658.1 608L1669 608L1679.9 608L1690.5 608L1700.5 608.1L1709.5 608.2L1717.3 608.4L1723.6 608.8L1728.2 609.5L1731 610.5L1732 613.5L1732 613.5L1731 615.9L1728.2 617L1723.6 617.8L1717.3 618.3L1709.5 618.7L1700.5 618.9L1690.5 619L1679.9 619L1669 619L1658.1 619L1647.5 619L1637.5 618.9L1628.5 618.7L1620.7 618.3L1614.4 617.8L1609.8 617L1607 615.9L1606 613.5Z" fill="#505050" filter="url(#f7_5)"/>
<path d="M1801 613.5L1801.9 610.5L1804.5 609.5L1808.7 608.8L1814.5 608.4L1821.5 608.2L1829.8 608.1L1838.8 608L1848.5 608L1858.5 608L1868.5 608L1878.2 608L1887.2 608.1L1895.5 608.2L1902.5 608.4L1908.3 608.8L1912.5 609.5L1915.1 610.5L1916 613.5L1916 613.5L1915.1 615.9L1912.5 617L1908.3 617.8L1902.5 618.3L1895.5 618.7L1887.2 618.9L1878.2 619L1868.5 619L1858.5 619L1848.5 619L1838.8 619L1829.8 618.9L1821.5 618.7L1814.5 618.3L1808.7 617.8L1804.5 617L1801.9 615.9L1801 613.5Z" fill="#505050" filter="url(#f7_5)"/>
<path d="M1995 613.5L1995.9 610.5L1998.6 609.5L2003 608.8L2008.9 608.4L2016.3 608.2L2024.8 608.1L2034.1 608L2044.2 608L2054.5 608L2064.8 608L2074.9 608L2084.2 608.1L2092.7 608.2L2100.1 608.4L2106 608.8L2110.4 609.5L2113.1 610.5L2114 613.5L2114 613.5L2113.1 615.9L2110.4 617L2106 617.8L2100.1 618.3L2092.7 618.7L2084.2 618.9L2074.9 619L2064.8 619L2054.5 619L2044.2 619L2034.1 619L2024.8 618.9L2016.3 618.7L2008.9 618.3L2003 617.8L1998.6 617L1995.9 615.9L1995 613.5Z" fill="#4c4c4c" filter="url(#f7_5)"/>
<path d="M2192 611.5L2192.9 608.5L2195.6 607.5L2200 606.8L2206 606.4L2213.4 606.2L2222 606.1L2231.5 606L2241.6 606L2252 606L2262.4 606L2272.5 606L2282 606.1L2290.6 606.2L2298 606.4L2304 606.8L2308.4 607.5L2311.1 608.5L2312 611.5L2312 611.5L2311.1 613.9L2308.4 615L2304 615.8L2298 616.3L2290.6 616.7L2282 616.9L2272.5 617L2262.4 617L2252 617L2241.6 617L2231.5 617L2222 616.9L2213.4 616.7L2206 616.3L2200 615.8L2195.6 615L2192.9 613.9L2192 611.5Z" fill="#585858" filter="url(#f7_5)"/>
<path d="M1608 629L1608.9 626.3L1611.7 625.3L1616.2 624.8L1622.3 624.4L1629.8 624.2L1638.5 624L1648.1 624L1658.4 624L1669 624L1679.6 624L1689.9 624L1699.5 624L1708.2 624.2L1715.7 624.4L1721.8 624.8L1726.3 625.3L1729.1 626.3L1730 629L1730 629L1729.1 631.2L1726.3 632.2L1721.8 632.9L1715.7 633.4L1708.2 633.7L1699.5 633.9L1689.9 634L1679.6 634L1669 634L1658.4 634L1648.1 634L1638.5 633.9L1629.8 633.7L1622.3 633.4L1616.2 632.9L1611.7 632.2L1608.9 631.2L1608 629Z" fill="#5c5c5c" filter="url(#f7_5)"/>
<path d="M1803 629L1803.8 626.3L1806.3 625.3L1810.4 624.8L1816 624.4L1822.8 624.2L1830.8 624L1839.5 624L1848.9 624L1858.5 624L1868.1 624L1877.5 624L1886.2 624L1894.2 624.2L1901 624.4L1906.6 624.8L1910.7 625.3L1913.2 626.3L1914 629L1914 629L1913.2 631.2L1910.7 632.2L1906.6 632.9L1901 633.4L1894.2 633.7L1886.2 633.9L1877.5 634L1868.1 634L1858.5 634L1848.9 634L1839.5 634L1830.8 633.9L1822.8 633.7L1816 633.4L1810.4 632.9L1806.3 632.2L1803.8 631.2L1803 629Z" fill="#5c5c5c" filter="url(#f7_5)"/>
<path d="M1997 629L1997.9 626.3L2000.5 625.3L2004.7 624.8L2010.5 624.4L2017.5 624.2L2025.8 624L2034.8 624L2044.5 624L2054.5 624L2064.5 624L2074.2 624L2083.2 624L2091.5 624.2L2098.5 624.4L2104.3 624.8L2108.5 625.3L2111.1 626.3L2112 629L2112 629L2111.1 631.2L2108.5 632.2L2104.3 632.9L2098.5 633.4L2091.5 633.7L2083.2 633.9L2074.2 634L2064.5 634L2054.5 634L2044.5 634L2034.8 634L2025.8 633.9L2017.5 633.7L2010.5 633.4L2004.7 632.9L2000.5 632.2L1997.9 631.2L1997 629Z" fill="#585858" filter="url(#f7_5)"/>
<path d="M2194 627L2194.9 624.3L2197.5 623.3L2201.8 622.8L2207.6 622.4L2214.7 622.2L2223 622L2232.2 622L2241.9 622L2252 622L2262.1 622L2271.8 622L2281 622L2289.3 622.2L2296.4 622.4L2302.2 622.8L2306.5 623.3L2309.1 624.3L2310 627L2310 627L2309.1 629.2L2306.5 630.2L2302.2 630.9L2296.4 631.4L2289.3 631.7L2281 631.9L2271.8 632L2262.1 632L2252 632L2241.9 632L2232.2 632L2223 631.9L2214.7 631.7L2207.6 631.4L2201.8 630.9L2197.5 630.2L2194.9 629.2L2194 627Z" fill="#646464" filter="url(#f7_5)"/>
<path d="M1596 586L1597.1 576.8L1600.6 573.9L1606.1 572.3L1613.7 571.5L1623 571.3L1633.8 571.4L1645.7 571.7L1658.4 571.9L1671.5 572L1684.6 571.9L1697.3 571.7L1709.2 571.4L1720 571.3L1729.3 571.5L1736.9 572.3L1742.4 573.9L1745.9 576.8L1747 586L1747 586L1745.9 593.6L1742.4 597.2L1736.9 600L1729.3 602.1L1720 603.7L1709.2 604.8L1697.3 605.5L1684.6 605.9L1671.5 606L1658.4 605.9L1645.7 605.5L1633.8 604.8L1623 603.7L1613.7 602.1L1606.1 600L1600.6 597.2L1597.1 593.6L1596 586Z" fill="#000" filter="url(#f7_5)"/>
<path d="M1790 586L1791.1 576.8L1794.3 573.9L1799.4 572.3L1806.5 571.5L1815.2 571.3L1825.2 571.4L1836.4 571.7L1848.3 571.9L1860.5 572L1872.7 571.9L1884.6 571.7L1895.8 571.4L1905.8 571.3L1914.5 571.5L1921.6 572.3L1926.7 573.9L1929.9 576.8L1931 586L1931 586L1929.9 593.6L1926.7 597.2L1921.6 600L1914.5 602.1L1905.8 603.7L1895.8 604.8L1884.6 605.5L1872.7 605.9L1860.5 606L1848.3 605.9L1836.4 605.5L1825.2 604.8L1815.2 603.7L1806.5 602.1L1799.4 600L1794.3 597.2L1791.1 593.6L1790 586Z" fill="#000" filter="url(#f7_5)"/>
<path d="M1986 585.5L1987.1 576.6L1990.4 574L1995.8 572.7L2003.1 572.2L2012.1 572.3L2022.5 572.7L2034 573.1L2046.3 573.4L2059 573.5L2071.7 573.3L2084 572.8L2095.5 572.2L2105.9 571.6L2114.9 571.4L2122.2 571.8L2127.6 573.1L2130.9 575.6L2132 584.5L2132 584.5L2130.9 592L2127.6 595.7L2122.2 598.6L2114.9 601.1L2105.9 603.1L2095.5 604.6L2084 605.6L2071.7 606.3L2059 606.5L2046.3 606.4L2034 606L2022.5 605.1L2012.1 603.7L2003.1 601.9L1995.8 599.5L1990.4 596.6L1987.1 593L1986 585.5Z" fill="#000" filter="url(#f7_5)"/>
<path d="M2184 583.5L2185.1 575.7L2188.4 573.4L2193.8 572.4L2201.1 572.1L2210.1 572.4L2220.5 572.9L2232 573.4L2244.3 573.9L2257 574L2269.7 573.9L2282 573.4L2293.5 572.9L2303.9 572.4L2312.9 572.1L2320.2 572.4L2325.6 573.4L2328.9 575.7L2330 583.5L2330 583.5L2328.9 590L2325.6 592.9L2320.2 594.9L2312.9 596.3L2303.9 597.2L2293.5 597.7L2282 597.9L2269.7 598L2257 598L2244.3 598L2232 597.9L2220.5 597.7L2210.1 597.2L2201.1 596.3L2193.8 594.9L2188.4 592.9L2185.1 590L2184 583.5Z" fill="#050505" filter="url(#f7_5)"/>
</g>
<rect x="1572.95" y="553.15" width="797" height="99.4" fill="none" stroke="#7f7f7f" stroke-width="5.9"/>
<g clip-path="url(#cp8)">
<rect x="1570" y="677.2" width="802.9" height="108.5" fill="#e4e4e4"/>
<path d="M1601 740.5L1602.3 726.6L1606.1 722.8L1612.3 720.7L1620.7 719.7L1631 719.4L1643 719.4L1656.3 719.5L1670.4 719.4L1685 719L1699.6 718.3L1713.7 717.4L1727 716.4L1739 715.6L1749.3 715.3L1757.7 715.9L1763.9 717.8L1767.7 721.9L1769 737.5L1769 737.5L1767.7 750.7L1763.9 755.9L1757.7 759.4L1749.3 761.9L1739 763.5L1727 764.4L1713.7 764.8L1699.6 765L1685 765L1670.4 765L1656.3 764.8L1643 764.4L1631 763.5L1620.7 762.1L1612.3 759.9L1606.1 756.8L1602.3 752.2L1601 740.5Z" fill="#000" filter="url(#f8_5)"/>
<path d="M1800 737L1801.1 722.9L1804.5 719L1810 717L1817.4 716L1826.6 715.8L1837.2 715.9L1849 716L1861.6 715.9L1874.5 715.5L1887.4 714.7L1900 713.6L1911.8 712.4L1922.4 711.3L1931.6 710.8L1939 711.2L1944.5 713L1947.9 717L1949 732.5L1949 732.5L1947.9 745.7L1944.5 750.9L1939 754.6L1931.6 757.1L1922.4 758.8L1911.8 759.9L1900 760.5L1887.4 760.8L1874.5 761L1861.6 761.1L1849 761.1L1837.2 760.9L1826.6 760.2L1817.4 758.8L1810 756.7L1804.5 753.6L1801.1 748.9L1800 737Z" fill="#000" filter="url(#f8_5)"/>
<path d="M1993 740L1994.1 730.1L1997.4 726.6L2002.7 724.2L2010 722.4L2018.9 720.9L2029.2 719.7L2040.7 718.5L2052.9 717.3L2065.5 716L2078.1 714.6L2090.3 713.1L2101.8 711.7L2112.1 710.7L2121 710.4L2128.3 711L2133.6 712.7L2136.9 716.4L2138 728.5L2138 728.5L2136.9 738.6L2133.6 743.5L2128.3 747.3L2121 750.3L2112.1 752.7L2101.8 754.5L2090.3 755.8L2078.1 756.8L2065.5 757.5L2052.9 758L2040.7 758.2L2029.2 758L2018.9 757.3L2010 756.1L2002.7 754.2L1997.4 751.6L1994.1 748L1993 740Z" fill="#949494" filter="url(#f8_6_5)"/>
<path d="M2010 750L2060 747L2110 741" fill="none" stroke="#555" stroke-width="13" stroke-linecap="round" stroke-linejoin="round" filter="url(#f8_6)"/>
<path d="M2066 745L2112 741" fill="none" stroke="#111" stroke-width="14" stroke-linecap="round" stroke-linejoin="round" filter="url(#f8_6)"/>
<path d="M2192 732Q2250 748 2290 738Q2312 730 2322 714" fill="none" stroke="#7a7a7a" stroke-width="38" stroke-linecap="round" stroke-linejoin="round" filter="url(#f8_6_5)"/>
<path d="M2196 738Q2250 754 2292 743Q2314 735 2324 720" fill="none" stroke="#484848" stroke-width="15" stroke-linecap="round" stroke-linejoin="round" filter="url(#f8_6)"/>
</g>
<rect x="1572.95" y="680.15" width="797" height="102.6" fill="none" stroke="#7f7f7f" stroke-width="5.9"/>
<g clip-path="url(#cp9)">
<rect x="1570" y="807.3" width="802.9" height="108.2" fill="#f6f6f6"/>
<path d="M1597 859L1598.1 847.2L1601.5 843.9L1607 842.2L1614.5 841.4L1623.8 841.2L1634.5 841.4L1646.3 841.7L1659 841.9L1672 842L1685 841.9L1697.7 841.7L1709.5 841.4L1720.2 841.2L1729.5 841.4L1737 842.2L1742.5 843.9L1745.9 847.2L1747 859L1747 859L1745.9 868.9L1742.5 872.8L1737 875.3L1729.5 877.1L1720.2 878.1L1709.5 878.7L1697.7 878.9L1685 879L1672 879L1659 879L1646.3 878.9L1634.5 878.7L1623.8 878.1L1614.5 877.1L1607 875.3L1601.5 872.8L1598.1 868.9L1597 859Z" fill="#000" filter="url(#f9_5)"/>
<path d="M1800 862L1801 850.2L1804.2 847L1809.2 845.2L1816.1 844.3L1824.6 844.1L1834.5 844.1L1845.4 844.2L1857 844.2L1869 844L1881 843.5L1892.6 842.9L1903.5 842.1L1913.4 841.5L1921.9 841.3L1928.8 841.8L1933.8 843.4L1937 846.7L1938 859L1938 859L1937 869.4L1933.8 873.6L1928.8 876.5L1921.9 878.6L1913.4 880L1903.5 880.9L1892.6 881.5L1881 881.8L1869 882L1857 882.1L1845.4 882.2L1834.5 881.9L1824.6 881.3L1816.1 880.2L1809.2 878.4L1804.2 875.8L1801 871.9L1800 862Z" fill="#000" filter="url(#f9_5)"/>
<path d="M1991 863L1992 851.8L1995.1 848.8L2000.1 847.3L2006.9 846.6L2015.3 846.6L2025 846.9L2035.7 847.2L2047.2 847.5L2059 847.5L2070.8 847.3L2082.3 846.9L2093 846.4L2102.7 846L2111.1 845.9L2117.9 846.5L2122.9 848L2126 851L2127 862.5L2127 862.5L2126 872.2L2122.9 876L2117.9 878.7L2111.1 880.5L2102.7 881.7L2093 882.5L2082.3 882.8L2070.8 883L2059 883L2047.2 883L2035.7 882.8L2025 882.5L2015.3 881.8L2006.9 880.6L2000.1 878.8L1995.1 876.2L1992 872.4L1991 863Z" fill="#000" filter="url(#f9_5)"/>
<path d="M2184 866.5L2185.1 854.5L2188.5 851.4L2194 850L2201.4 849.5L2210.6 849.6L2221.2 849.9L2233 850L2245.6 849.8L2258.5 849L2271.4 847.7L2284 845.9L2295.8 843.9L2306.4 841.9L2315.6 840.4L2323 839.8L2328.5 840.7L2331.9 843.7L2333 857L2333 857L2331.9 868.6L2328.5 873.7L2323 877.5L2315.6 880.7L2306.4 883.2L2295.8 885.2L2284 886.6L2271.4 887.7L2258.5 888.5L2245.6 889L2233 889L2221.2 888.7L2210.6 887.8L2201.4 886.2L2194 884L2188.5 881L2185.1 876.7L2184 866.5Z" fill="#000" filter="url(#f9_5)"/>
</g>
<rect x="1572.95" y="810.25" width="797" height="102.3" fill="none" stroke="#7f7f7f" stroke-width="5.9"/>
<g clip-path="url(#cp10)">
<rect x="1570" y="940.1" width="802.9" height="108.1" fill="#dddddd"/>
<path d="M1591 964.4L1592.3 954.2L1596.3 952.8L1602.8 952.6L1611.6 953.3L1622.4 954.5L1635 956L1648.9 957.7L1663.7 959.4L1679 961L1694.3 962.5L1709.1 963.8L1723 965L1735.6 966.1L1746.4 967L1755.2 968.2L1761.7 969.6L1765.7 971.7L1767 981.5L1767 981.5L1765.7 997.7L1761.7 1003.6L1755.2 1007.5L1746.4 1010L1735.6 1011.4L1723 1011.8L1709.1 1011.5L1694.3 1010.7L1679 1009.5L1663.7 1008.1L1648.9 1006.4L1635 1004.3L1622.4 1001.7L1611.6 998.4L1602.8 994.2L1596.3 989L1592.3 982L1591 964.4Z" fill="#000" filter="url(#f10_4)"/>
<path d="M1803 984.9L1804.2 972.8L1807.8 971L1813.7 970.2L1821.6 970L1831.4 970.1L1842.8 970.3L1855.3 970.4L1868.7 970.5L1882.5 970.5L1896.3 970.4L1909.7 970.1L1922.2 969.8L1933.6 969.4L1943.4 969.2L1951.3 969.3L1957.2 970L1960.8 971.8L1962 983.9L1962 983.9L1960.8 1004.3L1957.2 1011.2L1951.3 1015.7L1943.4 1018.7L1933.6 1020.6L1922.2 1021.6L1909.7 1022.1L1896.3 1022.4L1882.5 1022.5L1868.7 1022.6L1855.3 1022.5L1842.8 1022.1L1831.4 1021.2L1821.6 1019.5L1813.7 1016.6L1807.8 1012.1L1804.2 1005.3L1803 984.9Z" fill="#000" filter="url(#f10_4)"/>
<path d="M1986 981L1987.2 969.6L1990.7 967.9L1996.4 967.2L2004.1 967.1L2013.7 967.2L2024.8 967.5L2037 967.8L2050 967.9L2063.5 968L2077 967.9L2090 967.8L2102.2 967.5L2113.3 967.2L2122.9 967.1L2130.6 967.2L2136.3 967.9L2139.8 969.6L2141 981L2141 981L2139.8 1000.2L2136.3 1006.7L2130.6 1011L2122.9 1013.8L2113.3 1015.5L2102.2 1016.4L2090 1016.8L2077 1017L2063.5 1017L2050 1017L2037 1016.8L2024.8 1016.4L2013.7 1015.5L2004.1 1013.8L1996.4 1011L1990.7 1006.7L1987.2 1000.2L1986 981Z" fill="#000" filter="url(#f10_4)"/>
<path d="M2180 985.7L2181.2 976.8L2184.7 975.5L2190.4 975.1L2198.1 975.1L2207.7 975.3L2218.8 975.5L2231 975.7L2244 975.7L2257.5 975.5L2271 975.1L2284 974.6L2296.2 974L2307.3 973.3L2316.9 972.8L2324.6 972.5L2330.3 972.8L2333.8 974.1L2335 983.6L2335 983.6L2333.8 999.8L2330.3 1005.3L2324.6 1008.9L2316.9 1011.2L2307.3 1012.7L2296.2 1013.5L2284 1013.8L2271 1014L2257.5 1014L2244 1014L2231 1013.8L2218.8 1013.5L2207.7 1012.7L2198.1 1011.3L2190.4 1009.1L2184.7 1005.8L2181.2 1000.7L2180 985.7Z" fill="#000" filter="url(#f10_4)"/>
<rect x="1570" y="940.1" width="802.9" height="108.1" filter="url(#nz)" opacity="0.14" fill="#fff"/>
</g>
<rect x="1572.95" y="943.05" width="797" height="102.2" fill="none" stroke="#7f7f7f" stroke-width="5.9"/>
<text x="65.5" y="88" font-size="64" font-weight="bold" text-anchor="start">A</text>
<text x="1224.5" y="88" font-size="64" font-weight="bold" text-anchor="start">B</text>
<text x="342" y="115" font-size="57" font-weight="bold" text-anchor="start" letter-spacing="1">Control</text>
<text x="561" y="115" font-size="57" font-weight="bold" text-anchor="start" letter-spacing="1">BJIGT</text>
<text x="790" y="115" font-size="57" font-weight="bold" text-anchor="start" letter-spacing="1">RZ</text>
<text x="898" y="115" font-size="57" font-weight="bold" text-anchor="start" letter-spacing="1">BJIGT+RZ</text>
<text x="1568" y="116" font-size="57" font-weight="bold" text-anchor="start" letter-spacing="1">Control</text>
<text x="1792" y="116" font-size="57" font-weight="bold" text-anchor="start" letter-spacing="1">BJIGT</text>
<text x="2021" y="116" font-size="57" font-weight="bold" text-anchor="start" letter-spacing="1">RZ</text>
<text x="2123" y="116" font-size="57" font-weight="bold" text-anchor="start" letter-spacing="1">BJIGT+RZ</text>
<text x="322" y="232" font-size="56" font-weight="bold" text-anchor="end" letter-spacing="1">Bax</text>
<text x="322" y="361" font-size="56" font-weight="bold" text-anchor="end" letter-spacing="1">Bcl-2</text>
<text x="326" y="490" font-size="56" font-weight="bold" text-anchor="end" letter-spacing="0.7">Transferrin</text>
<text transform="translate(70.28 619.5) scale(1.39 1)" font-family="'Liberation Serif', 'DejaVu Serif', serif" font-weight="normal" font-size="62.5" stroke="#000" stroke-width="0.5">α</text>
<text x="114.76" y="619.5" font-size="56" font-weight="bold" text-anchor="start" xml:space="preserve" letter-spacing="0.5">-tubulin</text>
<text x="1262.76" y="232.5" font-size="56" font-weight="bold" text-anchor="start" xml:space="preserve" letter-spacing="1">p-AMPK</text>
<text transform="translate(1484.02 232.5) scale(1.39 1)" font-family="'Liberation Serif', 'DejaVu Serif', serif" font-weight="normal" font-size="62.5" stroke="#000" stroke-width="0.5">α</text>
<text x="1278.32" y="361" font-size="56" font-weight="bold" text-anchor="start" xml:space="preserve" letter-spacing="1">t-AMPK</text>
<text transform="translate(1484.02 361) scale(1.39 1)" font-family="'Liberation Serif', 'DejaVu Serif', serif" font-weight="normal" font-size="62.5" stroke="#000" stroke-width="0.5">α</text>
<text x="1530" y="491" font-size="56" font-weight="bold" text-anchor="end" letter-spacing="1.6">p-JNK</text>
<text x="1530" y="621" font-size="56" font-weight="bold" text-anchor="end" letter-spacing="1">t-JNK</text>
<text x="1529" y="750" font-size="56" font-weight="bold" text-anchor="end" letter-spacing="2">p-p38</text>
<text x="1530" y="878" font-size="56" font-weight="bold" text-anchor="end" letter-spacing="1">t-p38</text>
<text transform="translate(1278.28 1015) scale(1.39 1)" font-family="'Liberation Serif', 'DejaVu Serif', serif" font-weight="normal" font-size="62.5" stroke="#000" stroke-width="0.5">α</text>
<text x="1322.76" y="1015" font-size="56" font-weight="bold" text-anchor="start" xml:space="preserve" letter-spacing="0.5">-tubulin</text>
<rect x="404.3" y="873.5" width="5.9" height="6" fill="#000"/>
<rect x="370.75" y="870.9" width="73" height="5.2" fill="#000"/>
<rect x="338" y="878.5" width="138.5" height="354.3" fill="#000"/>
<rect x="343.9" y="884.3" width="126.7" height="348.5" fill="#ffffff"/>
<rect x="607.8" y="809.5" width="5.9" height="37.5" fill="#000"/>
<rect x="574.25" y="806.9" width="73" height="5.2" fill="#000"/>
<rect x="540" y="846" width="141.5" height="386.8" fill="#000"/>
<rect x="545.9" y="851.8" width="129.7" height="381" fill="#d3d3d3"/>
<rect x="812.35" y="864" width="5.9" height="19.5" fill="#000"/>
<rect x="778.8" y="861.4" width="73" height="5.2" fill="#000"/>
<rect x="742.5" y="882.5" width="141" height="350.3" fill="#000"/>
<rect x="748.4" y="888.3" width="129.2" height="344.5" fill="#606060"/>
<rect x="1014.25" y="954.8" width="5.9" height="16.2" fill="#000"/>
<rect x="980.7" y="952.2" width="73" height="5.2" fill="#000"/>
<rect x="947.8" y="970" width="138.8" height="262.8" fill="#000"/>
<rect x="304.55" y="704.1" width="5.9" height="531.6" fill="#000"/>
<rect x="290.5" y="1229.9" width="834.5" height="5.8" fill="#000"/>
<rect x="290.5" y="704.1" width="17" height="5.8" fill="#000"/>
<rect x="290.5" y="879.37" width="17" height="5.8" fill="#000"/>
<rect x="290.5" y="1054.63" width="17" height="5.8" fill="#000"/>
<text x="287" y="719" font-size="43.6" font-weight="bold" text-anchor="end" letter-spacing="1.3">1.5</text>
<text x="287" y="895.27" font-size="43.6" font-weight="bold" text-anchor="end" letter-spacing="1.3">1.0</text>
<text x="287" y="1071.53" font-size="43.6" font-weight="bold" text-anchor="end" letter-spacing="1.3">0.5</text>
<text x="287" y="1247.8" font-size="43.6" font-weight="bold" text-anchor="end" letter-spacing="1.3">0.0</text>
<text x="317" y="1310" font-size="47" font-weight="bold" text-anchor="start" letter-spacing="1">Control</text>
<text x="529.5" y="1310" font-size="47" font-weight="bold" text-anchor="start" letter-spacing="1.5">BJIGT</text>
<text x="777" y="1310" font-size="47" font-weight="bold" text-anchor="start" letter-spacing="2.5">RZ</text>
<text x="895" y="1310" font-size="47" font-weight="bold" text-anchor="start" letter-spacing="1">BJIGT+RZ</text>
<g transform="translate(163.3 1114.7) rotate(-90)">
<text x="0" y="0" font-size="43" font-weight="bold" text-anchor="start" xml:space="preserve" letter-spacing="0.01">Bax / </text>
<text transform="translate(113.45 0) scale(1.25 1)" font-family="'Liberation Serif', 'DejaVu Serif', serif" font-weight="normal" font-size="46.88">α</text>
<text x="143.8" y="0" font-size="43" font-weight="bold" text-anchor="start" xml:space="preserve" letter-spacing="0.01">-tubulin</text>
</g>
<text transform="translate(1015 945) scale(1.13 1)" font-size="68" font-weight="bold" text-anchor="middle">*</text>
<rect x="404.3" y="1528" width="5.9" height="13" fill="#000"/>
<rect x="370.75" y="1525.4" width="73" height="5.2" fill="#000"/>
<rect x="338" y="1540" width="138.5" height="354.05" fill="#000"/>
<rect x="343.9" y="1545.8" width="126.7" height="348.25" fill="#ffffff"/>
<rect x="608.3" y="1527" width="5.9" height="26.5" fill="#000"/>
<rect x="574.75" y="1524.4" width="73" height="5.2" fill="#000"/>
<rect x="541" y="1552.5" width="140.5" height="341.55" fill="#000"/>
<rect x="546.9" y="1558.3" width="128.7" height="335.75" fill="#d3d3d3"/>
<rect x="810.05" y="1532" width="5.9" height="28" fill="#000"/>
<rect x="776.5" y="1529.4" width="73" height="5.2" fill="#000"/>
<rect x="742.5" y="1559" width="141" height="335.05" fill="#000"/>
<rect x="748.4" y="1564.8" width="129.2" height="329.25" fill="#606060"/>
<rect x="1014.25" y="1492.3" width="5.9" height="25.3" fill="#000"/>
<rect x="980.7" y="1489.7" width="73" height="5.2" fill="#000"/>
<rect x="947.8" y="1516.6" width="138.8" height="377.45" fill="#000"/>
<rect x="304.55" y="1365.6" width="5.9" height="531.35" fill="#000"/>
<rect x="290.5" y="1891.15" width="834.5" height="5.8" fill="#000"/>
<rect x="290.5" y="1365.6" width="17" height="5.8" fill="#000"/>
<rect x="290.5" y="1540.78" width="17" height="5.8" fill="#000"/>
<rect x="290.5" y="1715.97" width="17" height="5.8" fill="#000"/>
<text x="287" y="1380.5" font-size="43.6" font-weight="bold" text-anchor="end" letter-spacing="1.3">1.5</text>
<text x="287" y="1556.68" font-size="43.6" font-weight="bold" text-anchor="end" letter-spacing="1.3">1.0</text>
<text x="287" y="1732.87" font-size="43.6" font-weight="bold" text-anchor="end" letter-spacing="1.3">0.5</text>
<text x="287" y="1909.05" font-size="43.6" font-weight="bold" text-anchor="end" letter-spacing="1.3">0.0</text>
<text x="323.5" y="1960" font-size="47" font-weight="bold" text-anchor="start" letter-spacing="1">Control</text>
<text x="536" y="1960" font-size="47" font-weight="bold" text-anchor="start" letter-spacing="1.5">BJIGT</text>
<text x="784" y="1960" font-size="47" font-weight="bold" text-anchor="start" letter-spacing="2.5">RZ</text>
<text x="901" y="1960" font-size="47" font-weight="bold" text-anchor="start" letter-spacing="1">BJIGT+RZ</text>
<g transform="translate(163.3 1788) rotate(-90)">
<text x="0" y="0" font-size="43" font-weight="bold" text-anchor="start" xml:space="preserve" letter-spacing="-0.13">Bcl-2 / </text>
<text transform="translate(138.6 0) scale(1.25 1)" font-family="'Liberation Serif', 'DejaVu Serif', serif" font-weight="normal" font-size="46.88">α</text>
<text x="168.95" y="0" font-size="43" font-weight="bold" text-anchor="start" xml:space="preserve" letter-spacing="-0.13">-tubulin</text>
</g>
<rect x="401.55" y="2268.5" width="5.9" height="12.5" fill="#000"/>
<rect x="368" y="2265.9" width="73" height="5.2" fill="#000"/>
<rect x="335" y="2280" width="139" height="266.4" fill="#000"/>
<rect x="340.9" y="2285.8" width="127.2" height="260.6" fill="#ffffff"/>
<rect x="605.3" y="2255.5" width="5.9" height="41.5" fill="#000"/>
<rect x="571.75" y="2252.9" width="73" height="5.2" fill="#000"/>
<rect x="537.5" y="2296" width="141.5" height="250.4" fill="#000"/>
<rect x="543.4" y="2301.8" width="129.7" height="244.6" fill="#d3d3d3"/>
<rect x="810.05" y="2250.5" width="5.9" height="35.5" fill="#000"/>
<rect x="776.5" y="2247.9" width="73" height="5.2" fill="#000"/>
<rect x="742.5" y="2285" width="141" height="261.4" fill="#000"/>
<rect x="748.4" y="2290.8" width="129.2" height="255.6" fill="#606060"/>
<rect x="1013.05" y="2106" width="5.9" height="46" fill="#000"/>
<rect x="979.5" y="2103.4" width="73" height="5.2" fill="#000"/>
<rect x="945.5" y="2151" width="141" height="395.4" fill="#000"/>
<rect x="298.55" y="2018" width="5.9" height="531.3" fill="#000"/>
<rect x="286.7" y="2543.5" width="837.3" height="5.8" fill="#000"/>
<rect x="286.7" y="2018" width="14.8" height="5.8" fill="#000"/>
<rect x="286.7" y="2149.38" width="14.8" height="5.8" fill="#000"/>
<rect x="286.7" y="2280.75" width="14.8" height="5.8" fill="#000"/>
<rect x="286.7" y="2412.13" width="14.8" height="5.8" fill="#000"/>
<text x="281" y="2032.9" font-size="43.6" font-weight="bold" text-anchor="end" letter-spacing="1.3">2.0</text>
<text x="281" y="2165.03" font-size="43.6" font-weight="bold" text-anchor="end" letter-spacing="1.3">1.5</text>
<text x="281" y="2297.15" font-size="43.6" font-weight="bold" text-anchor="end" letter-spacing="1.3">1.0</text>
<text x="281" y="2429.28" font-size="43.6" font-weight="bold" text-anchor="end" letter-spacing="1.3">0.5</text>
<text x="281" y="2561.4" font-size="43.6" font-weight="bold" text-anchor="end" letter-spacing="1.3">0.0</text>
<text x="317" y="2617.5" font-size="47" font-weight="bold" text-anchor="start" letter-spacing="1">Control</text>
<text x="529.5" y="2617.5" font-size="47" font-weight="bold" text-anchor="start" letter-spacing="1.5">BJIGT</text>
<text x="777" y="2617.5" font-size="47" font-weight="bold" text-anchor="start" letter-spacing="2.5">RZ</text>
<text x="895" y="2617.5" font-size="47" font-weight="bold" text-anchor="start" letter-spacing="1">BJIGT+RZ</text>
<g transform="translate(159 2458) rotate(-90)">
<text x="0" y="0" font-size="43" font-weight="bold" text-anchor="start" xml:space="preserve" letter-spacing="-0.31">Ratio (Bcl-2 / Bax)</text>
</g>
<text transform="translate(1009 2084) scale(1.13 1)" font-size="68" font-weight="bold" text-anchor="middle">*</text>
<rect x="404.3" y="2836.5" width="5.9" height="8.5" fill="#000"/>
<rect x="370.75" y="2833.9" width="73" height="5.2" fill="#000"/>
<rect x="338" y="2844" width="138.5" height="351.9" fill="#000"/>
<rect x="343.9" y="2849.8" width="126.7" height="346.1" fill="#ffffff"/>
<rect x="607.8" y="2944.5" width="5.9" height="16.5" fill="#000"/>
<rect x="574.25" y="2941.9" width="73" height="5.2" fill="#000"/>
<rect x="540" y="2960" width="141.5" height="235.9" fill="#000"/>
<rect x="545.9" y="2965.8" width="129.7" height="230.1" fill="#d3d3d3"/>
<rect x="810.3" y="2915" width="5.9" height="25" fill="#000"/>
<rect x="776.75" y="2912.4" width="73" height="5.2" fill="#000"/>
<rect x="742.5" y="2939" width="141.5" height="256.9" fill="#000"/>
<rect x="748.4" y="2944.8" width="129.7" height="251.1" fill="#606060"/>
<rect x="1014.05" y="2927" width="5.9" height="25" fill="#000"/>
<rect x="980.5" y="2924.4" width="73" height="5.2" fill="#000"/>
<rect x="947.5" y="2951" width="139" height="244.9" fill="#000"/>
<rect x="304.55" y="2670.1" width="5.9" height="528.7" fill="#000"/>
<rect x="290.5" y="3193" width="834.5" height="5.8" fill="#000"/>
<rect x="290.5" y="2670.1" width="17" height="5.8" fill="#000"/>
<rect x="290.5" y="2844.4" width="17" height="5.8" fill="#000"/>
<rect x="290.5" y="3018.7" width="17" height="5.8" fill="#000"/>
<text x="287" y="2685" font-size="43.6" font-weight="bold" text-anchor="end" letter-spacing="1.3">1.5</text>
<text x="287" y="2860.3" font-size="43.6" font-weight="bold" text-anchor="end" letter-spacing="1.3">1.0</text>
<text x="287" y="3035.6" font-size="43.6" font-weight="bold" text-anchor="end" letter-spacing="1.3">0.5</text>
<text x="287" y="3210.9" font-size="43.6" font-weight="bold" text-anchor="end" letter-spacing="1.3">0.0</text>
<text x="323.5" y="3267.5" font-size="47" font-weight="bold" text-anchor="start" letter-spacing="1">Control</text>
<text x="536" y="3267.5" font-size="47" font-weight="bold" text-anchor="start" letter-spacing="1.5">BJIGT</text>
<text x="784" y="3267.5" font-size="47" font-weight="bold" text-anchor="start" letter-spacing="2.5">RZ</text>
<text x="901" y="3267.5" font-size="47" font-weight="bold" text-anchor="start" letter-spacing="1">BJIGT+RZ</text>
<g transform="translate(163.3 3153) rotate(-90)">
<text x="0" y="0" font-size="43" font-weight="bold" text-anchor="start" xml:space="preserve" letter-spacing="0.16">Transferrin / </text>
<text transform="translate(261.31 0) scale(1.25 1)" font-family="'Liberation Serif', 'DejaVu Serif', serif" font-weight="normal" font-size="46.88">α</text>
<text x="291.66" y="0" font-size="43" font-weight="bold" text-anchor="start" xml:space="preserve" letter-spacing="0.16">-tubulin</text>
</g>
<text transform="translate(616 2887.5) scale(1.13 1)" font-size="68" font-weight="bold" text-anchor="middle">*</text>
<text transform="translate(1015 2872.5) scale(1.13 1)" font-size="68" font-weight="bold" text-anchor="middle">*</text>
<rect x="1585.05" y="1322.5" width="5.9" height="26" fill="#000"/>
<rect x="1551.5" y="1319.9" width="73" height="5.2" fill="#000"/>
<rect x="1518.5" y="1347.5" width="139" height="353.4" fill="#000"/>
<rect x="1524.4" y="1353.3" width="127.2" height="347.6" fill="#ffffff"/>
<rect x="1788.8" y="1356.5" width="5.9" height="14.5" fill="#000"/>
<rect x="1755.25" y="1353.9" width="73" height="5.2" fill="#000"/>
<rect x="1721" y="1370" width="141.5" height="330.9" fill="#000"/>
<rect x="1726.9" y="1375.8" width="129.7" height="325.1" fill="#d3d3d3"/>
<rect x="1990.8" y="1377.5" width="5.9" height="17" fill="#000"/>
<rect x="1957.25" y="1374.9" width="73" height="5.2" fill="#000"/>
<rect x="1922.5" y="1393.5" width="142.5" height="307.4" fill="#000"/>
<rect x="1928.4" y="1399.3" width="130.7" height="301.6" fill="#606060"/>
<rect x="2195.35" y="1447" width="5.9" height="10.2" fill="#000"/>
<rect x="2161.8" y="1444.4" width="73" height="5.2" fill="#000"/>
<rect x="2128.3" y="1456.2" width="140" height="244.7" fill="#000"/>
<rect x="1485.55" y="1172.1" width="5.9" height="531.7" fill="#000"/>
<rect x="1470.3" y="1698" width="835.7" height="5.8" fill="#000"/>
<rect x="1470.3" y="1172.1" width="18.2" height="5.8" fill="#000"/>
<rect x="1470.3" y="1347.4" width="18.2" height="5.8" fill="#000"/>
<rect x="1470.3" y="1522.7" width="18.2" height="5.8" fill="#000"/>
<text x="1467.8" y="1187" font-size="43.6" font-weight="bold" text-anchor="end" letter-spacing="1.3">1.5</text>
<text x="1467.8" y="1363.3" font-size="43.6" font-weight="bold" text-anchor="end" letter-spacing="1.3">1.0</text>
<text x="1467.8" y="1539.6" font-size="43.6" font-weight="bold" text-anchor="end" letter-spacing="1.3">0.5</text>
<text x="1467.8" y="1715.9" font-size="43.6" font-weight="bold" text-anchor="end" letter-spacing="1.3">0.0</text>
<text x="1503.5" y="1775" font-size="47" font-weight="bold" text-anchor="start" letter-spacing="1">Control</text>
<text x="1717" y="1775" font-size="47" font-weight="bold" text-anchor="start" letter-spacing="1.5">BJIGT</text>
<text x="1964" y="1775" font-size="47" font-weight="bold" text-anchor="start" letter-spacing="2.5">RZ</text>
<text x="2080.5" y="1775" font-size="47" font-weight="bold" text-anchor="start" letter-spacing="1">BJIGT+RZ</text>
<g transform="translate(1342.5 1638) rotate(-90)">
<text x="0" y="0" font-size="43" font-weight="bold" text-anchor="start" xml:space="preserve" letter-spacing="-0.05">p-AMPK</text>
<text transform="translate(165.53 0) scale(1.25 1)" font-family="'Liberation Serif', 'DejaVu Serif', serif" font-weight="normal" font-size="46.88">α</text>
<text x="195.88" y="0" font-size="43" font-weight="bold" text-anchor="start" xml:space="preserve" letter-spacing="-0.05"> / t-AMPK</text>
<text transform="translate(385.15 0) scale(1.25 1)" font-family="'Liberation Serif', 'DejaVu Serif', serif" font-weight="normal" font-size="46.88">α</text>
</g>
<text transform="translate(2196.1 1422) scale(1.13 1)" font-size="68" font-weight="bold" text-anchor="middle" letter-spacing="3.2">**</text>
<rect x="1580.5" y="2039" width="9" height="4.5" fill="#000"/>
<rect x="1548.5" y="2036.4" width="73" height="5.2" fill="#000"/>
<rect x="1512.5" y="2042.5" width="145" height="352.9" fill="#000"/>
<rect x="1521.5" y="2048.3" width="127" height="347.1" fill="#ffffff"/>
<rect x="1786.25" y="2045" width="9" height="13.5" fill="#000"/>
<rect x="1754.25" y="2042.4" width="73" height="5.2" fill="#000"/>
<rect x="1719" y="2057.5" width="143.5" height="337.9" fill="#000"/>
<rect x="1728" y="2063.3" width="125.5" height="332.1" fill="#d3d3d3"/>
<rect x="1989.25" y="2047.5" width="9" height="23.5" fill="#000"/>
<rect x="1957.25" y="2044.9" width="73" height="5.2" fill="#000"/>
<rect x="1922.5" y="2070" width="142.5" height="325.4" fill="#000"/>
<rect x="1931.5" y="2075.8" width="124.5" height="319.6" fill="#606060"/>
<rect x="2193" y="2129" width="9" height="8" fill="#000"/>
<rect x="2161" y="2126.4" width="73" height="5.2" fill="#000"/>
<rect x="2125.5" y="2136" width="144" height="259.4" fill="#000"/>
<rect x="1479.5" y="1870.1" width="9" height="528.2" fill="#000"/>
<rect x="1467.2" y="2392.5" width="834.8" height="5.8" fill="#000"/>
<rect x="1467.2" y="1870.1" width="16.8" height="5.8" fill="#000"/>
<rect x="1467.2" y="2044.23" width="16.8" height="5.8" fill="#000"/>
<rect x="1467.2" y="2218.37" width="16.8" height="5.8" fill="#000"/>
<text x="1461.9" y="1886.5" font-size="43.6" font-weight="bold" text-anchor="end" letter-spacing="1.3">1.5</text>
<text x="1461.9" y="2061.13" font-size="43.6" font-weight="bold" text-anchor="end" letter-spacing="1.3">1.0</text>
<text x="1461.9" y="2235.77" font-size="43.6" font-weight="bold" text-anchor="end" letter-spacing="1.3">0.5</text>
<text x="1461.9" y="2410.4" font-size="43.6" font-weight="bold" text-anchor="end" letter-spacing="1.3">0.0</text>
<text x="1497.5" y="2481.5" font-size="47" font-weight="bold" text-anchor="start" letter-spacing="1">Control</text>
<text x="1722" y="2481.5" font-size="47" font-weight="bold" text-anchor="start" letter-spacing="1.5">BJIGT</text>
<text x="1970.5" y="2481.5" font-size="47" font-weight="bold" text-anchor="start" letter-spacing="2.5">RZ</text>
<text x="2088" y="2481.5" font-size="47" font-weight="bold" text-anchor="start" letter-spacing="1">BJIGT+RZ</text>
<g transform="translate(1335 2265.5) rotate(-90)">
<text x="0" y="0" font-size="43" font-weight="bold" text-anchor="start" xml:space="preserve" letter-spacing="0.26">p-JNK / t-JNK</text>
</g>
<text transform="translate(2196.1 2118.5) scale(1.13 1)" font-size="68" font-weight="bold" text-anchor="middle" letter-spacing="3.2">**</text>
<rect x="1582.6" y="2706" width="5.8" height="13.5" fill="#000"/>
<rect x="1549" y="2703.25" width="73" height="5.5" fill="#000"/>
<rect x="1516" y="2718.5" width="139" height="353.5" fill="#000"/>
<rect x="1521.8" y="2724.6" width="127.4" height="347.4" fill="#ffffff"/>
<rect x="1786.1" y="2666.5" width="5.8" height="41" fill="#000"/>
<rect x="1752.5" y="2663.75" width="73" height="5.5" fill="#000"/>
<rect x="1719" y="2706.5" width="140" height="365.5" fill="#000"/>
<rect x="1724.8" y="2712.6" width="128.4" height="359.4" fill="#d3d3d3"/>
<rect x="1990.85" y="2820.5" width="5.8" height="14" fill="#000"/>
<rect x="1957.25" y="2817.75" width="73" height="5.5" fill="#000"/>
<rect x="1922.5" y="2833.5" width="142.5" height="238.5" fill="#000"/>
<rect x="1928.3" y="2839.6" width="130.9" height="232.4" fill="#606060"/>
<rect x="2195.1" y="2815" width="5.8" height="19.5" fill="#000"/>
<rect x="2161.5" y="2812.25" width="73" height="5.5" fill="#000"/>
<rect x="2125.5" y="2833.5" width="142" height="238.5" fill="#000"/>
<rect x="1479.6" y="2543.45" width="5.8" height="531.6" fill="#000"/>
<rect x="1467" y="3068.95" width="839" height="6.1" fill="#000"/>
<rect x="1467" y="2543.45" width="15.5" height="6.1" fill="#000"/>
<rect x="1467" y="2718.62" width="15.5" height="6.1" fill="#000"/>
<rect x="1467" y="2893.78" width="15.5" height="6.1" fill="#000"/>
<text x="1461.6" y="2558.5" font-size="43.6" font-weight="bold" text-anchor="end" letter-spacing="1.3">1.5</text>
<text x="1461.6" y="2734.67" font-size="43.6" font-weight="bold" text-anchor="end" letter-spacing="1.3">1.0</text>
<text x="1461.6" y="2910.83" font-size="43.6" font-weight="bold" text-anchor="end" letter-spacing="1.3">0.5</text>
<text x="1461.6" y="3087" font-size="43.6" font-weight="bold" text-anchor="end" letter-spacing="1.3">0.0</text>
<text x="1497.5" y="3143.5" font-size="47" font-weight="bold" text-anchor="start" letter-spacing="1">Control</text>
<text x="1709.5" y="3143.5" font-size="47" font-weight="bold" text-anchor="start" letter-spacing="1.5">BJIGT</text>
<text x="1958" y="3143.5" font-size="47" font-weight="bold" text-anchor="start" letter-spacing="2.5">RZ</text>
<text x="2076" y="3143.5" font-size="47" font-weight="bold" text-anchor="start" letter-spacing="1">BJIGT+RZ</text>
<g transform="translate(1336 2930.5) rotate(-90)">
<text x="0" y="0" font-size="43" font-weight="bold" text-anchor="start" xml:space="preserve" letter-spacing="-0.21">p-p38 / t-p38</text>
</g>
<text transform="translate(1987 2797.5) scale(1.13 1)" font-size="68" font-weight="bold" text-anchor="middle">*</text>
<text transform="translate(2192.8 2785.5) scale(1.13 1)" font-size="68" font-weight="bold" text-anchor="middle" letter-spacing="3.2">**</text>
</svg></body></html>
